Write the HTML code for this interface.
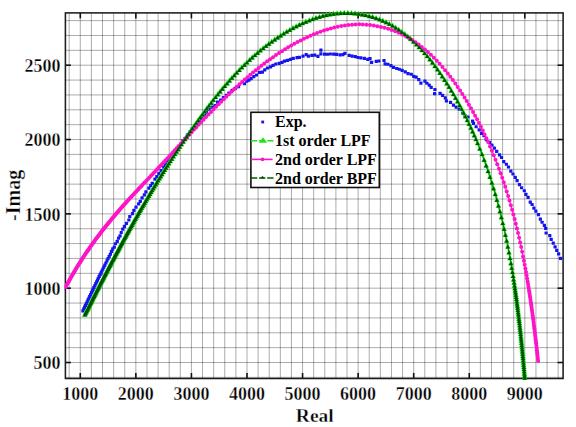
<!DOCTYPE html>
<html><head><meta charset="utf-8"><style>
html,body{margin:0;padding:0;background:#fff;width:576px;height:427px;overflow:hidden;font-family:"Liberation Serif",serif}
svg{display:block}
</style></head><body>
<svg width="576" height="427" viewBox="0 0 576 427">
<rect width="576" height="427" fill="#fff"/>
<g stroke="#000" stroke-opacity="0.33" stroke-width="1"><line x1="69.17" y1="12.9" x2="69.17" y2="378.5"/><line x1="80.29" y1="12.9" x2="80.29" y2="378.5"/><line x1="91.40" y1="12.9" x2="91.40" y2="378.5"/><line x1="102.51" y1="12.9" x2="102.51" y2="378.5"/><line x1="113.63" y1="12.9" x2="113.63" y2="378.5"/><line x1="124.74" y1="12.9" x2="124.74" y2="378.5"/><line x1="135.85" y1="12.9" x2="135.85" y2="378.5"/><line x1="146.97" y1="12.9" x2="146.97" y2="378.5"/><line x1="158.08" y1="12.9" x2="158.08" y2="378.5"/><line x1="169.19" y1="12.9" x2="169.19" y2="378.5"/><line x1="180.31" y1="12.9" x2="180.31" y2="378.5"/><line x1="191.42" y1="12.9" x2="191.42" y2="378.5"/><line x1="202.53" y1="12.9" x2="202.53" y2="378.5"/><line x1="213.65" y1="12.9" x2="213.65" y2="378.5"/><line x1="224.76" y1="12.9" x2="224.76" y2="378.5"/><line x1="235.87" y1="12.9" x2="235.87" y2="378.5"/><line x1="246.99" y1="12.9" x2="246.99" y2="378.5"/><line x1="258.10" y1="12.9" x2="258.10" y2="378.5"/><line x1="269.22" y1="12.9" x2="269.22" y2="378.5"/><line x1="280.33" y1="12.9" x2="280.33" y2="378.5"/><line x1="291.44" y1="12.9" x2="291.44" y2="378.5"/><line x1="302.56" y1="12.9" x2="302.56" y2="378.5"/><line x1="313.67" y1="12.9" x2="313.67" y2="378.5"/><line x1="324.78" y1="12.9" x2="324.78" y2="378.5"/><line x1="335.90" y1="12.9" x2="335.90" y2="378.5"/><line x1="347.01" y1="12.9" x2="347.01" y2="378.5"/><line x1="358.12" y1="12.9" x2="358.12" y2="378.5"/><line x1="369.24" y1="12.9" x2="369.24" y2="378.5"/><line x1="380.35" y1="12.9" x2="380.35" y2="378.5"/><line x1="391.46" y1="12.9" x2="391.46" y2="378.5"/><line x1="402.58" y1="12.9" x2="402.58" y2="378.5"/><line x1="413.69" y1="12.9" x2="413.69" y2="378.5"/><line x1="424.80" y1="12.9" x2="424.80" y2="378.5"/><line x1="435.92" y1="12.9" x2="435.92" y2="378.5"/><line x1="447.03" y1="12.9" x2="447.03" y2="378.5"/><line x1="458.14" y1="12.9" x2="458.14" y2="378.5"/><line x1="469.26" y1="12.9" x2="469.26" y2="378.5"/><line x1="480.37" y1="12.9" x2="480.37" y2="378.5"/><line x1="491.48" y1="12.9" x2="491.48" y2="378.5"/><line x1="502.60" y1="12.9" x2="502.60" y2="378.5"/><line x1="513.71" y1="12.9" x2="513.71" y2="378.5"/><line x1="524.82" y1="12.9" x2="524.82" y2="378.5"/><line x1="535.94" y1="12.9" x2="535.94" y2="378.5"/><line x1="547.05" y1="12.9" x2="547.05" y2="378.5"/><line x1="558.16" y1="12.9" x2="558.16" y2="378.5"/><line x1="65.4" y1="377.37" x2="563.1" y2="377.37"/><line x1="65.4" y1="362.51" x2="563.1" y2="362.51"/><line x1="65.4" y1="347.64" x2="563.1" y2="347.64"/><line x1="65.4" y1="332.78" x2="563.1" y2="332.78"/><line x1="65.4" y1="317.91" x2="563.1" y2="317.91"/><line x1="65.4" y1="303.05" x2="563.1" y2="303.05"/><line x1="65.4" y1="288.18" x2="563.1" y2="288.18"/><line x1="65.4" y1="273.32" x2="563.1" y2="273.32"/><line x1="65.4" y1="258.45" x2="563.1" y2="258.45"/><line x1="65.4" y1="243.59" x2="563.1" y2="243.59"/><line x1="65.4" y1="228.72" x2="563.1" y2="228.72"/><line x1="65.4" y1="213.86" x2="563.1" y2="213.86"/><line x1="65.4" y1="199.00" x2="563.1" y2="199.00"/><line x1="65.4" y1="184.13" x2="563.1" y2="184.13"/><line x1="65.4" y1="169.27" x2="563.1" y2="169.27"/><line x1="65.4" y1="154.40" x2="563.1" y2="154.40"/><line x1="65.4" y1="139.54" x2="563.1" y2="139.54"/><line x1="65.4" y1="124.67" x2="563.1" y2="124.67"/><line x1="65.4" y1="109.81" x2="563.1" y2="109.81"/><line x1="65.4" y1="94.94" x2="563.1" y2="94.94"/><line x1="65.4" y1="80.08" x2="563.1" y2="80.08"/><line x1="65.4" y1="65.21" x2="563.1" y2="65.21"/><line x1="65.4" y1="50.35" x2="563.1" y2="50.35"/><line x1="65.4" y1="35.48" x2="563.1" y2="35.48"/><line x1="65.4" y1="20.62" x2="563.1" y2="20.62"/></g>
<defs><clipPath id="c"><rect x="64.5" y="0.0" width="517.7" height="427.0"/></clipPath>
<path id="tri" d="M0,-3.2 L2.85,2.1 L-2.85,2.1 Z"/>
<path id="trs" d="M0,-2.3 L2.1,1.5 L-2.1,1.5 Z"/>
</defs>
<g stroke="#111" stroke-width="1.6"><line x1="80.29" y1="378.5" x2="80.29" y2="373.0"/><line x1="80.29" y1="12.9" x2="80.29" y2="18.4"/><line x1="135.85" y1="378.5" x2="135.85" y2="373.0"/><line x1="135.85" y1="12.9" x2="135.85" y2="18.4"/><line x1="191.42" y1="378.5" x2="191.42" y2="373.0"/><line x1="191.42" y1="12.9" x2="191.42" y2="18.4"/><line x1="246.99" y1="378.5" x2="246.99" y2="373.0"/><line x1="246.99" y1="12.9" x2="246.99" y2="18.4"/><line x1="302.56" y1="378.5" x2="302.56" y2="373.0"/><line x1="302.56" y1="12.9" x2="302.56" y2="18.4"/><line x1="358.12" y1="378.5" x2="358.12" y2="373.0"/><line x1="358.12" y1="12.9" x2="358.12" y2="18.4"/><line x1="413.69" y1="378.5" x2="413.69" y2="373.0"/><line x1="413.69" y1="12.9" x2="413.69" y2="18.4"/><line x1="469.26" y1="378.5" x2="469.26" y2="373.0"/><line x1="469.26" y1="12.9" x2="469.26" y2="18.4"/><line x1="524.82" y1="378.5" x2="524.82" y2="373.0"/><line x1="524.82" y1="12.9" x2="524.82" y2="18.4"/><line x1="65.4" y1="362.51" x2="70.9" y2="362.51"/><line x1="563.1" y1="362.51" x2="557.6" y2="362.51"/><line x1="65.4" y1="288.18" x2="70.9" y2="288.18"/><line x1="563.1" y1="288.18" x2="557.6" y2="288.18"/><line x1="65.4" y1="213.86" x2="70.9" y2="213.86"/><line x1="563.1" y1="213.86" x2="557.6" y2="213.86"/><line x1="65.4" y1="139.54" x2="70.9" y2="139.54"/><line x1="563.1" y1="139.54" x2="557.6" y2="139.54"/><line x1="65.4" y1="65.21" x2="70.9" y2="65.21"/><line x1="563.1" y1="65.21" x2="557.6" y2="65.21"/></g>
<rect x="65.4" y="12.9" width="497.7" height="365.6" fill="none" stroke="#1c1c1c" stroke-width="1.55"/>
<g clip-path="url(#c)">
<g fill="#1414ee"><rect x="81.31" y="309.18" width="3.2" height="3.2" rx="0.5"/><rect x="82.16" y="307.37" width="3.2" height="3.2" rx="0.5"/><rect x="83.02" y="305.56" width="3.2" height="3.2" rx="0.5"/><rect x="83.87" y="303.75" width="3.2" height="3.2" rx="0.5"/><rect x="84.72" y="301.94" width="3.2" height="3.2" rx="0.5"/><rect x="85.58" y="300.14" width="3.2" height="3.2" rx="0.5"/><rect x="86.43" y="298.33" width="3.2" height="3.2" rx="0.5"/><rect x="87.29" y="296.52" width="3.2" height="3.2" rx="0.5"/><rect x="88.14" y="294.71" width="3.2" height="3.2" rx="0.5"/><rect x="89.00" y="292.91" width="3.2" height="3.2" rx="0.5"/><rect x="89.86" y="291.10" width="3.2" height="3.2" rx="0.5"/><rect x="90.72" y="289.29" width="3.2" height="3.2" rx="0.5"/><rect x="91.58" y="287.49" width="3.2" height="3.2" rx="0.5"/><rect x="92.44" y="285.68" width="3.2" height="3.2" rx="0.5"/><rect x="93.31" y="283.88" width="3.2" height="3.2" rx="0.5"/><rect x="94.17" y="282.08" width="3.2" height="3.2" rx="0.5"/><rect x="95.04" y="280.27" width="3.2" height="3.2" rx="0.5"/><rect x="95.91" y="278.47" width="3.2" height="3.2" rx="0.5"/><rect x="96.78" y="276.67" width="3.2" height="3.2" rx="0.5"/><rect x="97.65" y="274.87" width="3.2" height="3.2" rx="0.5"/><rect x="98.53" y="273.07" width="3.2" height="3.2" rx="0.5"/><rect x="99.41" y="271.27" width="3.2" height="3.2" rx="0.5"/><rect x="100.32" y="269.41" width="3.2" height="3.2" rx="0.5"/><rect x="101.26" y="267.50" width="3.2" height="3.2" rx="0.5"/><rect x="102.23" y="265.53" width="3.2" height="3.2" rx="0.5"/><rect x="103.23" y="263.51" width="3.2" height="3.2" rx="0.5"/><rect x="104.27" y="261.42" width="3.2" height="3.2" rx="0.5"/><rect x="105.34" y="259.28" width="3.2" height="3.2" rx="0.5"/><rect x="106.45" y="257.07" width="3.2" height="3.2" rx="0.5"/><rect x="107.61" y="254.80" width="3.2" height="3.2" rx="0.5"/><rect x="108.80" y="252.56" width="3.2" height="3.2" rx="0.5"/><rect x="109.94" y="249.73" width="3.2" height="3.2" rx="0.5"/><rect x="111.15" y="247.22" width="3.2" height="3.2" rx="0.5"/><rect x="112.66" y="245.48" width="3.2" height="3.2" rx="0.5"/><rect x="113.85" y="242.17" width="3.2" height="3.2" rx="0.5"/><rect x="115.62" y="239.80" width="3.2" height="3.2" rx="0.5"/><rect x="116.97" y="236.56" width="3.2" height="3.2" rx="0.5"/><rect x="118.47" y="234.26" width="3.2" height="3.2" rx="0.5"/><rect x="119.62" y="230.91" width="3.2" height="3.2" rx="0.5"/><rect x="121.11" y="227.57" width="3.2" height="3.2" rx="0.5"/><rect x="122.88" y="224.81" width="3.2" height="3.2" rx="0.5"/><rect x="124.90" y="221.76" width="3.2" height="3.2" rx="0.5"/><rect x="127.24" y="218.39" width="3.2" height="3.2" rx="0.5"/><rect x="128.16" y="215.07" width="3.2" height="3.2" rx="0.5"/><rect x="130.91" y="212.11" width="3.2" height="3.2" rx="0.5"/><rect x="132.29" y="208.73" width="3.2" height="3.2" rx="0.5"/><rect x="134.41" y="205.46" width="3.2" height="3.2" rx="0.5"/><rect x="137.07" y="202.31" width="3.2" height="3.2" rx="0.5"/><rect x="138.66" y="199.77" width="3.2" height="3.2" rx="0.5"/><rect x="140.46" y="196.31" width="3.2" height="3.2" rx="0.5"/><rect x="142.72" y="193.26" width="3.2" height="3.2" rx="0.5"/><rect x="144.29" y="190.18" width="3.2" height="3.2" rx="0.5"/><rect x="147.25" y="186.54" width="3.2" height="3.2" rx="0.5"/><rect x="149.15" y="184.06" width="3.2" height="3.2" rx="0.5"/><rect x="150.71" y="181.66" width="3.2" height="3.2" rx="0.5"/><rect x="153.31" y="177.50" width="3.2" height="3.2" rx="0.5"/><rect x="155.20" y="175.09" width="3.2" height="3.2" rx="0.5"/><rect x="157.24" y="172.11" width="3.2" height="3.2" rx="0.5"/><rect x="159.43" y="169.09" width="3.2" height="3.2" rx="0.5"/><rect x="162.12" y="165.61" width="3.2" height="3.2" rx="0.5"/><rect x="163.85" y="162.69" width="3.2" height="3.2" rx="0.5"/><rect x="166.00" y="159.45" width="3.2" height="3.2" rx="0.5"/><rect x="167.94" y="156.81" width="3.2" height="3.2" rx="0.5"/><rect x="170.65" y="154.30" width="3.2" height="3.2" rx="0.5"/><rect x="172.07" y="150.64" width="3.2" height="3.2" rx="0.5"/><rect x="174.97" y="147.25" width="3.2" height="3.2" rx="0.5"/><rect x="176.79" y="144.95" width="3.2" height="3.2" rx="0.5"/><rect x="179.62" y="142.27" width="3.2" height="3.2" rx="0.5"/><rect x="181.32" y="138.96" width="3.2" height="3.2" rx="0.5"/><rect x="183.61" y="136.70" width="3.2" height="3.2" rx="0.5"/><rect x="185.83" y="133.15" width="3.2" height="3.2" rx="0.5"/><rect x="188.42" y="130.33" width="3.2" height="3.2" rx="0.5"/><rect x="190.57" y="127.12" width="3.2" height="3.2" rx="0.5"/><rect x="193.01" y="124.51" width="3.2" height="3.2" rx="0.5"/><rect x="195.83" y="122.09" width="3.2" height="3.2" rx="0.5"/><rect x="197.86" y="119.31" width="3.2" height="3.2" rx="0.5"/><rect x="200.23" y="116.70" width="3.2" height="3.2" rx="0.5"/><rect x="202.87" y="113.83" width="3.2" height="3.2" rx="0.5"/><rect x="204.98" y="111.09" width="3.2" height="3.2" rx="0.5"/><rect x="207.45" y="107.63" width="3.2" height="3.2" rx="0.5"/><rect x="210.60" y="105.45" width="3.2" height="3.2" rx="0.5"/><rect x="213.47" y="104.03" width="3.2" height="3.2" rx="0.5"/><rect x="215.87" y="100.56" width="3.2" height="3.2" rx="0.5"/><rect x="219.04" y="98.53" width="3.2" height="3.2" rx="0.5"/><rect x="221.75" y="95.92" width="3.2" height="3.2" rx="0.5"/><rect x="224.94" y="93.86" width="3.2" height="3.2" rx="0.5"/><rect x="227.26" y="91.39" width="3.2" height="3.2" rx="0.5"/><rect x="230.60" y="88.83" width="3.2" height="3.2" rx="0.5"/><rect x="233.67" y="86.73" width="3.2" height="3.2" rx="0.5"/><rect x="236.95" y="84.97" width="3.2" height="3.2" rx="0.5"/><rect x="242.86" y="82.13" width="3.2" height="3.2" rx="0.5"/><rect x="245.16" y="79.48" width="3.2" height="3.2" rx="0.5"/><rect x="247.32" y="78.60" width="3.2" height="3.2" rx="0.5"/><rect x="249.55" y="76.95" width="3.2" height="3.2" rx="0.5"/><rect x="252.17" y="75.11" width="3.2" height="3.2" rx="0.5"/><rect x="254.97" y="73.39" width="3.2" height="3.2" rx="0.5"/><rect x="257.83" y="70.70" width="3.2" height="3.2" rx="0.5"/><rect x="260.78" y="70.46" width="3.2" height="3.2" rx="0.5"/><rect x="263.16" y="68.18" width="3.2" height="3.2" rx="0.5"/><rect x="265.88" y="66.42" width="3.2" height="3.2" rx="0.5"/><rect x="268.98" y="65.25" width="3.2" height="3.2" rx="0.5"/><rect x="271.51" y="63.85" width="3.2" height="3.2" rx="0.5"/><rect x="274.21" y="62.41" width="3.2" height="3.2" rx="0.5"/><rect x="277.56" y="61.76" width="3.2" height="3.2" rx="0.5"/><rect x="280.40" y="60.76" width="3.2" height="3.2" rx="0.5"/><rect x="282.91" y="59.59" width="3.2" height="3.2" rx="0.5"/><rect x="285.90" y="58.80" width="3.2" height="3.2" rx="0.5"/><rect x="288.92" y="57.79" width="3.2" height="3.2" rx="0.5"/><rect x="291.66" y="56.75" width="3.2" height="3.2" rx="0.5"/><rect x="295.43" y="56.08" width="3.2" height="3.2" rx="0.5"/><rect x="297.78" y="55.86" width="3.2" height="3.2" rx="0.5"/><rect x="301.43" y="54.45" width="3.2" height="3.2" rx="0.5"/><rect x="304.60" y="53.10" width="3.2" height="3.2" rx="0.5"/><rect x="306.76" y="54.43" width="3.2" height="3.2" rx="0.5"/><rect x="310.27" y="53.72" width="3.2" height="3.2" rx="0.5"/><rect x="313.17" y="53.56" width="3.2" height="3.2" rx="0.5"/><rect x="316.30" y="54.80" width="3.2" height="3.2" rx="0.5"/><rect x="319.26" y="52.33" width="3.2" height="3.2" rx="0.5"/><rect x="322.97" y="52.50" width="3.2" height="3.2" rx="0.5"/><rect x="325.80" y="52.64" width="3.2" height="3.2" rx="0.5"/><rect x="328.72" y="52.41" width="3.2" height="3.2" rx="0.5"/><rect x="332.09" y="52.55" width="3.2" height="3.2" rx="0.5"/><rect x="334.99" y="52.80" width="3.2" height="3.2" rx="0.5"/><rect x="338.42" y="53.27" width="3.2" height="3.2" rx="0.5"/><rect x="341.31" y="52.94" width="3.2" height="3.2" rx="0.5"/><rect x="343.30" y="51.70" width="3.2" height="3.2" rx="0.5"/><rect x="347.62" y="53.77" width="3.2" height="3.2" rx="0.5"/><rect x="350.59" y="54.59" width="3.2" height="3.2" rx="0.5"/><rect x="353.73" y="55.11" width="3.2" height="3.2" rx="0.5"/><rect x="356.46" y="55.90" width="3.2" height="3.2" rx="0.5"/><rect x="359.31" y="56.18" width="3.2" height="3.2" rx="0.5"/><rect x="362.78" y="56.81" width="3.2" height="3.2" rx="0.5"/><rect x="366.15" y="57.77" width="3.2" height="3.2" rx="0.5"/><rect x="368.41" y="57.08" width="3.2" height="3.2" rx="0.5"/><rect x="370.00" y="60.70" width="3.2" height="3.2" rx="0.5"/><rect x="374.67" y="59.84" width="3.2" height="3.2" rx="0.5"/><rect x="377.24" y="59.40" width="3.2" height="3.2" rx="0.5"/><rect x="382.40" y="58.90" width="3.2" height="3.2" rx="0.5"/><rect x="383.48" y="62.30" width="3.2" height="3.2" rx="0.5"/><rect x="386.25" y="62.63" width="3.2" height="3.2" rx="0.5"/><rect x="389.32" y="63.96" width="3.2" height="3.2" rx="0.5"/><rect x="391.84" y="65.76" width="3.2" height="3.2" rx="0.5"/><rect x="395.10" y="66.90" width="3.2" height="3.2" rx="0.5"/><rect x="397.72" y="67.64" width="3.2" height="3.2" rx="0.5"/><rect x="400.54" y="68.81" width="3.2" height="3.2" rx="0.5"/><rect x="403.65" y="70.18" width="3.2" height="3.2" rx="0.5"/><rect x="406.47" y="72.04" width="3.2" height="3.2" rx="0.5"/><rect x="409.65" y="72.67" width="3.2" height="3.2" rx="0.5"/><rect x="412.11" y="74.71" width="3.2" height="3.2" rx="0.5"/><rect x="414.60" y="75.59" width="3.2" height="3.2" rx="0.5"/><rect x="417.18" y="78.11" width="3.2" height="3.2" rx="0.5"/><rect x="419.30" y="81.50" width="3.2" height="3.2" rx="0.5"/><rect x="423.30" y="79.50" width="3.2" height="3.2" rx="0.5"/><rect x="425.22" y="81.65" width="3.2" height="3.2" rx="0.5"/><rect x="427.64" y="83.45" width="3.2" height="3.2" rx="0.5"/><rect x="429.56" y="85.84" width="3.2" height="3.2" rx="0.5"/><rect x="433.30" y="87.91" width="3.2" height="3.2" rx="0.5"/><rect x="433.00" y="92.00" width="3.2" height="3.2" rx="0.5"/><rect x="438.53" y="91.84" width="3.2" height="3.2" rx="0.5"/><rect x="440.95" y="93.82" width="3.2" height="3.2" rx="0.5"/><rect x="443.67" y="96.36" width="3.2" height="3.2" rx="0.5"/><rect x="444.80" y="99.20" width="3.2" height="3.2" rx="0.5"/><rect x="448.94" y="100.83" width="3.2" height="3.2" rx="0.5"/><rect x="451.84" y="103.53" width="3.2" height="3.2" rx="0.5"/><rect x="454.53" y="105.52" width="3.2" height="3.2" rx="0.5"/><rect x="457.71" y="107.62" width="3.2" height="3.2" rx="0.5"/><rect x="461.04" y="111.60" width="3.2" height="3.2" rx="0.5"/><rect x="463.36" y="114.08" width="3.2" height="3.2" rx="0.5"/><rect x="466.40" y="115.38" width="3.2" height="3.2" rx="0.5"/><rect x="471.00" y="119.50" width="3.2" height="3.2" rx="0.5"/><rect x="471.88" y="121.83" width="3.2" height="3.2" rx="0.5"/><rect x="474.52" y="125.17" width="3.2" height="3.2" rx="0.5"/><rect x="477.57" y="128.36" width="3.2" height="3.2" rx="0.5"/><rect x="479.92" y="131.89" width="3.2" height="3.2" rx="0.5"/><rect x="482.40" y="134.05" width="3.2" height="3.2" rx="0.5"/><rect x="484.67" y="137.99" width="3.2" height="3.2" rx="0.5"/><rect x="487.92" y="140.78" width="3.2" height="3.2" rx="0.5"/><rect x="490.37" y="143.52" width="3.2" height="3.2" rx="0.5"/><rect x="492.74" y="146.49" width="3.2" height="3.2" rx="0.5"/><rect x="495.09" y="149.79" width="3.2" height="3.2" rx="0.5"/><rect x="497.94" y="153.19" width="3.2" height="3.2" rx="0.5"/><rect x="499.94" y="155.89" width="3.2" height="3.2" rx="0.5"/><rect x="502.16" y="160.10" width="3.2" height="3.2" rx="0.5"/><rect x="504.78" y="162.66" width="3.2" height="3.2" rx="0.5"/><rect x="506.87" y="165.40" width="3.2" height="3.2" rx="0.5"/><rect x="509.21" y="169.58" width="3.2" height="3.2" rx="0.5"/><rect x="511.38" y="172.39" width="3.2" height="3.2" rx="0.5"/><rect x="513.64" y="175.87" width="3.2" height="3.2" rx="0.5"/><rect x="515.49" y="179.06" width="3.2" height="3.2" rx="0.5"/><rect x="517.84" y="182.93" width="3.2" height="3.2" rx="0.5"/><rect x="520.01" y="186.17" width="3.2" height="3.2" rx="0.5"/><rect x="522.70" y="189.16" width="3.2" height="3.2" rx="0.5"/><rect x="524.27" y="192.79" width="3.2" height="3.2" rx="0.5"/><rect x="526.49" y="195.68" width="3.2" height="3.2" rx="0.5"/><rect x="528.65" y="200.47" width="3.2" height="3.2" rx="0.5"/><rect x="530.50" y="202.92" width="3.2" height="3.2" rx="0.5"/><rect x="532.31" y="206.61" width="3.2" height="3.2" rx="0.5"/><rect x="534.25" y="209.44" width="3.2" height="3.2" rx="0.5"/><rect x="536.85" y="213.02" width="3.2" height="3.2" rx="0.5"/><rect x="538.75" y="217.60" width="3.2" height="3.2" rx="0.5"/><rect x="540.47" y="220.67" width="3.2" height="3.2" rx="0.5"/><rect x="542.80" y="223.85" width="3.2" height="3.2" rx="0.5"/><rect x="544.06" y="226.85" width="3.2" height="3.2" rx="0.5"/><rect x="544.50" y="231.40" width="3.2" height="3.2" rx="0.5"/><rect x="548.18" y="234.11" width="3.2" height="3.2" rx="0.5"/><rect x="549.57" y="237.86" width="3.2" height="3.2" rx="0.5"/><rect x="551.68" y="241.55" width="3.2" height="3.2" rx="0.5"/><rect x="553.47" y="245.35" width="3.2" height="3.2" rx="0.5"/><rect x="555.14" y="248.77" width="3.2" height="3.2" rx="0.5"/><rect x="557.05" y="252.33" width="3.2" height="3.2" rx="0.5"/><rect x="558.90" y="256.79" width="3.2" height="3.2" rx="0.5"/><rect x="319.30" y="48.60" width="3.2" height="3.2" rx="0.5"/></g>
<path d="M84.89,314.62 L85.15,314.10 L85.41,313.58 L85.66,313.06 L85.92,312.54 L86.18,312.02 L86.44,311.50 L86.69,310.99 L86.95,310.47 L87.21,309.95 L87.47,309.43 L87.72,308.91 L87.98,308.39 L88.24,307.87 L88.50,307.35 L88.76,306.84 L89.02,306.32 L89.27,305.80 L89.53,305.28 L89.79,304.76 L90.05,304.25 L90.31,303.73 L90.57,303.21 L90.83,302.69 L91.08,302.18 L91.34,301.66 L91.60,301.14 L91.86,300.63 L92.12,300.11 L92.38,299.60 L92.64,299.08 L92.90,298.56 L93.16,298.05 L93.42,297.53 L93.68,297.02 L93.94,296.50 L94.20,295.99 L94.46,295.47 L94.72,294.96 L94.98,294.44 L95.24,293.93 L95.50,293.41 L95.76,292.90 L96.02,292.38 L96.28,291.87 L96.54,291.36 L96.80,290.84 L97.06,290.33 L97.32,289.82 L97.58,289.30 L97.85,288.79 L98.11,288.28 L98.37,287.76 L98.63,287.25 L98.89,286.74 L99.15,286.23 L99.41,285.71 L99.68,285.20 L99.94,284.69 L100.20,284.18 L100.46,283.67 L100.73,283.15 L100.99,282.64 L101.25,282.13 L101.51,281.62 L101.78,281.11 L102.04,280.60 L102.30,280.09 L102.56,279.58 L102.83,279.07 L103.09,278.56 L103.35,278.05 L103.62,277.54 L103.88,277.03 L104.14,276.52 L104.41,276.01 L104.67,275.50 L104.94,274.99 L105.20,274.48 L105.46,273.97 L105.73,273.46 L105.99,272.96 L106.26,272.45 L106.52,271.94 L106.79,271.43 L107.05,270.92 L107.32,270.41 L107.58,269.91 L107.85,269.40 L108.11,268.89 L108.38,268.38 L108.64,267.88 L108.91,267.37 L109.18,266.86 L109.44,266.36 L109.71,265.85 L109.97,265.34 L110.24,264.84 L110.51,264.33 L110.77,263.83 L111.04,263.32 L111.31,262.82 L111.57,262.31 L111.84,261.80 L112.11,261.30 L112.37,260.79 L112.64,260.29 L112.91,259.79 L113.18,259.28 L113.44,258.78 L113.71,258.27 L113.98,257.77 L114.25,257.26 L114.52,256.76 L114.79,256.26 L115.05,255.75 L115.32,255.25 L115.59,254.75 L115.86,254.24 L116.13,253.74 L116.40,253.24 L116.67,252.74 L116.94,252.23 L117.21,251.73 L117.48,251.23 L117.75,250.73 L118.02,250.23 L118.29,249.72 L118.56,249.22 L118.83,248.72 L119.10,248.22 L119.37,247.72 L119.64,247.22 L119.91,246.72 L120.18,246.22 L120.46,245.72 L120.73,245.22 L121.00,244.72 L121.27,244.22 L121.54,243.72 L121.81,243.22 L122.09,242.72 L122.36,242.22 L122.63,241.72 L122.90,241.22 L123.18,240.72 L123.45,240.22 L123.72,239.72 L124.00,239.23 L124.27,238.73 L124.54,238.23 L124.82,237.73 L125.09,237.23 L125.37,236.74 L125.64,236.24 L125.91,235.74 L126.19,235.24 L126.46,234.75 L126.74,234.25 L127.01,233.75 L127.29,233.26 L127.56,232.76 L127.84,232.26 L128.11,231.77 L128.39,231.27 L128.67,230.78 L128.94,230.28 L129.22,229.79 L129.49,229.29 L129.77,228.79 L130.05,228.30 L130.32,227.80 L130.60,227.31 L130.88,226.82 L131.16,226.32 L131.43,225.83 L131.71,225.33 L131.99,224.84 L132.27,224.35 L132.55,223.85 L132.82,223.36 L133.10,222.87 L133.38,222.37 L133.66,221.88 L133.94,221.39 L134.22,220.89 L134.50,220.40 L134.78,219.91 L135.06,219.42 L135.34,218.92 L135.62,218.43 L135.90,217.94 L136.18,217.45 L136.46,216.96 L136.74,216.47 L137.02,215.98 L137.30,215.48 L137.58,214.99 L137.87,214.50 L138.15,214.01 L138.43,213.52 L138.71,213.03 L138.99,212.54 L139.28,212.05 L139.56,211.56 L139.84,211.07 L140.12,210.58 L140.41,210.09 L140.69,209.61 L140.97,209.12 L141.26,208.63 L141.54,208.14 L141.83,207.65 L142.11,207.16 L142.40,206.68 L142.68,206.19 L142.97,205.70 L143.25,205.21 L143.54,204.72 L143.82,204.24 L144.11,203.75 L144.39,203.26 L144.68,202.78 L144.96,202.29 L145.25,201.80 L145.54,201.32 L145.82,200.83 L146.11,200.34 L146.40,199.86 L146.69,199.37 L146.97,198.89 L147.26,198.40 L147.55,197.92 L147.84,197.43 L148.13,196.95 L148.41,196.46 L148.70,195.98 L148.99,195.49 L149.28,195.01 L149.57,194.52 L149.86,194.04 L150.15,193.56 L150.44,193.07 L150.73,192.59 L151.02,192.11 L151.31,191.62 L151.60,191.14 L151.89,190.66 L152.19,190.18 L152.48,189.69 L152.77,189.21 L153.06,188.73 L153.35,188.25 L153.64,187.76 L153.94,187.28 L154.23,186.80 L154.52,186.32 L154.82,185.84 L155.11,185.36 L155.40,184.88 L155.70,184.40 L155.99,183.92 L156.28,183.44 L156.58,182.96 L156.87,182.48 L157.17,182.00 L157.46,181.52 L157.76,181.04 L158.05,180.56 L158.35,180.08 L158.65,179.60 L158.94,179.12 L159.24,178.64 L159.54,178.16 L159.83,177.68 L160.13,177.21 L160.43,176.73 L160.72,176.25 L161.02,175.77 L161.32,175.29 L161.62,174.82 L161.92,174.34 L162.22,173.86 L162.51,173.39 L162.81,172.91 L163.11,172.43 L163.41,171.96 L163.71,171.48 L164.01,171.00 L164.31,170.53 L164.61,170.05 L164.91,169.58 L165.22,169.10 L165.52,168.62 L165.82,168.15 L166.12,167.67 L166.42,167.20 L166.72,166.73 L167.03,166.25 L167.33,165.78 L167.63,165.30 L167.93,164.83 L168.24,164.35 L168.54,163.88 L168.85,163.41 L169.15,162.93 L169.45,162.46 L169.76,161.99 L170.06,161.52 L170.37,161.04 L170.67,160.57 L170.98,160.10 L171.28,159.63 L171.59,159.15 L171.90,158.68 L172.20,158.21 L172.51,157.74 L172.82,157.27 L173.12,156.80 L173.43,156.33 L173.74,155.85 L174.05,155.38 L174.36,154.91 L174.66,154.44 L174.97,153.97 L175.28,153.50 L175.59,153.03 L175.90,152.56 L176.21,152.09 L176.52,151.62 L176.83,151.16 L177.14,150.69 L177.45,150.22 L177.76,149.75 L178.07,149.28 L178.39,148.81 L178.70,148.34 L179.01,147.88 L179.32,147.41 L179.63,146.94 L179.95,146.47 L180.26,146.01 L180.57,145.54 L180.89,145.07 L181.20,144.60 L181.51,144.14 L181.83,143.67 L182.14,143.21 L182.46,142.74 L182.77,142.27 L183.09,141.81 L183.41,141.34 L183.72,140.88 L184.04,140.41 L184.35,139.95 L184.67,139.48 L184.99,139.02 L185.31,138.55 L185.62,138.09 L185.94,137.62 L186.26,137.16 L186.58,136.70 L186.90,136.23 L187.21,135.77 L187.53,135.30 L187.85,134.84 L188.17,134.38 L188.49,133.92 L188.81,133.45 L189.13,132.99 L189.46,132.53 L189.78,132.07 L190.10,131.60 L190.42,131.14 L190.74,130.68 L191.06,130.22 L191.39,129.76 L191.71,129.30 L192.03,128.83 L192.36,128.37 L192.68,127.91 L193.00,127.45 L193.33,126.99 L193.65,126.53 L193.98,126.07 L194.30,125.61 L194.63,125.15 L194.95,124.69 L195.28,124.23 L195.61,123.77 L195.93,123.32 L196.26,122.86 L196.59,122.40 L196.91,121.94 L197.24,121.48 L197.57,121.02 L197.90,120.57 L198.23,120.11 L198.56,119.65 L198.89,119.20 L199.22,118.74 L199.55,118.28 L199.88,117.83 L200.21,117.37 L200.54,116.91 L200.87,116.46 L201.20,116.00 L201.53,115.55 L201.87,115.09 L202.20,114.64 L202.53,114.18 L202.87,113.73 L203.20,113.28 L203.54,112.82 L203.87,112.37 L204.21,111.92 L204.54,111.47 L204.88,111.01 L205.21,110.56 L205.55,110.11 L205.89,109.66 L206.23,109.21 L206.57,108.76 L206.90,108.31 L207.24,107.86 L207.58,107.41 L207.92,106.96 L208.26,106.51 L208.60,106.06 L208.94,105.62 L209.29,105.17 L209.63,104.72 L209.97,104.27 L210.31,103.83 L210.66,103.38 L211.00,102.93 L211.35,102.49 L211.69,102.04 L212.04,101.60 L212.38,101.16 L212.73,100.71 L213.07,100.27 L213.42,99.83 L213.77,99.38 L214.12,98.94 L214.47,98.50 L214.82,98.06 L215.17,97.62 L215.52,97.18 L215.87,96.74 L216.22,96.30 L216.57,95.86 L216.92,95.42 L217.28,94.98 L217.63,94.55 L217.98,94.11 L218.34,93.67 L218.69,93.24 L219.05,92.80 L219.40,92.37 L219.76,91.93 L220.12,91.50 L220.48,91.06 L220.84,90.63 L221.19,90.20 L221.55,89.77 L221.91,89.33 L222.27,88.90 L222.64,88.47 L223.00,88.04 L223.36,87.61 L223.72,87.18 L224.09,86.76 L224.45,86.33 L224.82,85.90 L225.18,85.47 L225.55,85.05 L225.91,84.62 L226.28,84.20 L226.65,83.77 L227.02,83.35 L227.39,82.93 L227.76,82.50 L228.13,82.08 L228.50,81.66 L228.87,81.24 L229.24,80.82 L229.62,80.40 L229.99,79.98 L230.36,79.56 L230.74,79.15 L231.11,78.73 L231.49,78.31 L231.87,77.90 L232.25,77.48 L232.62,77.07 L233.00,76.65 L233.38,76.24 L233.76,75.83 L234.14,75.42 L234.53,75.00 L234.91,74.59 L235.29,74.18 L235.68,73.77 L236.06,73.37 L236.45,72.96 L236.83,72.55 L237.22,72.15 L237.61,71.74 L237.99,71.33 L238.38,70.93 L238.77,70.53 L239.16,70.12 L239.55,69.72 L239.95,69.32 L240.34,68.92 L240.73,68.52 L241.13,68.12 L241.52,67.72 L241.92,67.33 L242.31,66.93 L242.71,66.53 L243.11,66.14 L243.51,65.74 L243.91,65.35 L244.31,64.96 L244.71,64.56 L245.11,64.17 L245.51,63.78 L245.92,63.39 L246.32,63.00 L246.73,62.62 L247.13,62.23 L247.54,61.84 L247.95,61.46 L248.36,61.07 L248.77,60.69 L249.18,60.30 L249.59,59.92 L250.00,59.54 L250.41,59.16 L250.82,58.78 L251.24,58.40 L251.65,58.02 L252.07,57.64 L252.49,57.27 L252.90,56.89 L253.32,56.52 L253.74,56.14 L254.16,55.77 L254.58,55.40 L255.01,55.03 L255.43,54.66 L255.85,54.29 L256.28,53.92 L256.70,53.55 L257.13,53.19 L257.56,52.82 L257.99,52.46 L258.41,52.09 L258.85,51.73 L259.28,51.37 L259.71,51.01 L260.14,50.65 L260.57,50.29 L261.01,49.93 L261.45,49.57 L261.88,49.21 L262.32,48.86 L262.76,48.50 L263.20,48.15 L263.64,47.80 L264.08,47.45 L264.52,47.10 L264.97,46.75 L265.41,46.40 L265.85,46.05 L266.30,45.71 L266.75,45.36 L267.20,45.02 L267.65,44.67 L268.10,44.33 L268.55,43.99 L269.00,43.65 L269.45,43.31 L269.91,42.97 L270.36,42.63 L270.82,42.30 L271.27,41.96 L271.73,41.63 L272.19,41.30 L272.65,40.96 L273.11,40.63 L273.58,40.30 L274.04,39.98 L274.50,39.65 L274.97,39.32 L275.44,39.00 L275.90,38.67 L276.37,38.35 L276.84,38.03 L277.31,37.71 L277.78,37.39 L278.26,37.07 L278.73,36.75 L279.20,36.43 L279.68,36.12 L280.16,35.80 L280.64,35.49 L281.12,35.18 L281.60,34.87 L282.08,34.56 L282.56,34.25 L283.04,33.94 L283.53,33.64 L284.01,33.33 L284.50,33.03 L284.99,32.73 L285.48,32.43 L285.97,32.13 L286.46,31.83 L286.95,31.53 L287.44,31.24 L287.94,30.95 L288.43,30.65 L288.93,30.36 L289.42,30.08 L289.92,29.79 L290.42,29.50 L290.92,29.22 L291.42,28.94 L291.92,28.65 L292.42,28.38 L292.93,28.10 L293.43,27.82 L293.94,27.55 L294.44,27.28 L294.95,27.01 L295.46,26.74 L295.97,26.47 L296.48,26.21 L296.99,25.94 L297.50,25.68 L298.01,25.42 L298.53,25.17 L299.04,24.91 L299.56,24.66 L300.07,24.41 L300.59,24.16 L301.11,23.91 L301.63,23.67 L302.15,23.42 L302.67,23.18 L303.19,22.94 L303.71,22.71 L304.23,22.47 L304.76,22.24 L305.28,22.01 L305.81,21.79 L306.33,21.56 L306.86,21.34 L307.39,21.12 L307.92,20.90 L308.44,20.69 L308.97,20.47 L309.51,20.26 L310.04,20.05 L310.57,19.85 L311.10,19.65 L311.64,19.45 L312.17,19.25 L312.70,19.05 L313.24,18.86 L313.78,18.67 L314.31,18.48 L314.85,18.30 L315.39,18.12 L315.93,17.94 L316.47,17.76 L317.01,17.59 L317.55,17.42 L318.09,17.25 L318.63,17.09 L319.18,16.92 L319.72,16.76 L320.27,16.61 L320.81,16.46 L321.36,16.31 L321.90,16.16 L322.45,16.01 L323.00,15.87 L323.54,15.73 L324.09,15.60 L324.64,15.47 L325.19,15.34 L325.74,15.21 L326.29,15.09 L326.84,14.97 L327.40,14.86 L327.95,14.74 L328.50,14.63 L329.06,14.53 L329.61,14.43 L330.16,14.33 L330.72,14.23 L331.28,14.14 L331.83,14.05 L332.39,13.96 L332.95,13.88 L333.50,13.80 L334.06,13.73 L334.62,13.66 L335.18,13.59 L335.74,13.52 L336.30,13.46 L336.86,13.41 L337.42,13.35 L337.98,13.30 L338.54,13.26 L339.10,13.21 L339.67,13.18 L340.23,13.14 L340.79,13.11 L341.35,13.08 L341.92,13.06 L342.48,13.03 L343.04,13.02 L343.61,13.00 L344.17,12.99 L344.74,12.98 L345.30,12.98 L345.86,12.98 L346.43,12.99 L346.99,12.99 L347.56,13.00 L348.12,13.02 L348.68,13.03 L349.25,13.06 L349.81,13.08 L350.37,13.11 L350.94,13.14 L351.50,13.17 L352.06,13.21 L352.62,13.25 L353.19,13.30 L353.75,13.35 L354.31,13.40 L354.87,13.45 L355.43,13.51 L355.99,13.57 L356.55,13.64 L357.11,13.71 L357.67,13.78 L358.23,13.86 L358.78,13.93 L359.34,14.02 L359.90,14.10 L360.45,14.19 L361.01,14.28 L361.56,14.38 L362.12,14.47 L362.67,14.58 L363.22,14.68 L363.77,14.79 L364.32,14.90 L364.87,15.02 L365.42,15.13 L365.97,15.25 L366.51,15.38 L367.06,15.51 L367.60,15.64 L368.15,15.77 L368.69,15.91 L369.23,16.05 L369.77,16.19 L370.31,16.34 L370.85,16.49 L371.39,16.64 L371.92,16.79 L372.46,16.95 L372.99,17.12 L373.52,17.28 L374.06,17.45 L374.59,17.62 L375.11,17.79 L375.64,17.97 L376.17,18.15 L376.69,18.34 L377.21,18.52 L377.73,18.71 L378.25,18.90 L378.77,19.10 L379.29,19.30 L379.80,19.50 L380.32,19.70 L380.83,19.91 L381.34,20.12 L381.85,20.34 L382.35,20.55 L382.86,20.77 L383.36,20.99 L383.86,21.22 L384.36,21.45 L384.86,21.68 L385.36,21.91 L385.85,22.15 L386.35,22.39 L386.84,22.63 L387.33,22.87 L387.82,23.12 L388.31,23.37 L388.79,23.63 L389.28,23.88 L389.76,24.14 L390.24,24.40 L390.72,24.66 L391.20,24.93 L391.68,25.20 L392.15,25.47 L392.63,25.75 L393.10,26.02 L393.57,26.30 L394.04,26.58 L394.51,26.87 L394.97,27.16 L395.44,27.45 L395.90,27.74 L396.36,28.03 L396.82,28.33 L397.28,28.63 L397.74,28.93 L398.19,29.23 L398.65,29.54 L399.10,29.85 L399.55,30.16 L400.00,30.48 L400.45,30.79 L400.90,31.11 L401.34,31.43 L401.79,31.75 L402.23,32.08 L402.67,32.41 L403.11,32.74 L403.55,33.07 L403.99,33.40 L404.42,33.74 L404.86,34.08 L405.29,34.42 L405.72,34.76 L406.15,35.10 L406.58,35.45 L407.01,35.80 L407.43,36.15 L407.86,36.51 L408.28,36.86 L408.70,37.22 L409.12,37.58 L409.54,37.94 L409.96,38.30 L410.38,38.67 L410.79,39.03 L411.21,39.40 L411.62,39.77 L412.03,40.15 L412.44,40.52 L412.85,40.90 L413.26,41.28 L413.67,41.66 L414.07,42.04 L414.47,42.42 L414.88,42.81 L415.28,43.20 L415.68,43.59 L416.08,43.98 L416.47,44.37 L416.87,44.76 L417.26,45.16 L417.66,45.56 L418.05,45.96 L418.44,46.36 L418.83,46.76 L419.22,47.17 L419.61,47.57 L419.99,47.98 L420.38,48.39 L420.76,48.80 L421.15,49.21 L421.53,49.62 L421.91,50.04 L422.29,50.46 L422.67,50.87 L423.04,51.29 L423.42,51.72 L423.79,52.14 L424.17,52.56 L424.54,52.99 L424.91,53.41 L425.28,53.84 L425.65,54.27 L426.02,54.70 L426.38,55.13 L426.75,55.57 L427.11,56.00 L427.48,56.44 L427.84,56.87 L428.20,57.31 L428.56,57.75 L428.92,58.19 L429.28,58.64 L429.63,59.08 L429.99,59.52 L430.34,59.97 L430.70,60.41 L431.05,60.86 L431.40,61.31 L431.75,61.76 L432.10,62.21 L432.45,62.66 L432.79,63.12 L433.14,63.57 L433.49,64.02 L433.83,64.48 L434.17,64.94 L434.52,65.39 L434.86,65.85 L435.20,66.31 L435.54,66.77 L435.87,67.24 L436.21,67.70 L436.55,68.16 L436.88,68.62 L437.22,69.09 L437.55,69.55 L437.88,70.02 L438.21,70.49 L438.54,70.96 L438.87,71.42 L439.20,71.89 L439.53,72.36 L439.86,72.83 L440.18,73.31 L440.51,73.78 L440.83,74.25 L441.15,74.72 L441.47,75.20 L441.80,75.67 L442.12,76.15 L442.44,76.62 L442.75,77.10 L443.07,77.58 L443.39,78.05 L443.70,78.53 L444.02,79.01 L444.33,79.49 L444.65,79.97 L444.96,80.45 L445.27,80.93 L445.58,81.41 L445.89,81.89 L446.20,82.37 L446.51,82.85 L446.82,83.33 L447.12,83.82 L447.43,84.30 L447.73,84.78 L448.04,85.27 L448.34,85.75 L448.64,86.24 L448.94,86.72 L449.24,87.21 L449.54,87.69 L449.84,88.18 L450.14,88.67 L450.44,89.15 L450.73,89.64 L451.03,90.13 L451.33,90.62 L451.62,91.11 L451.91,91.59 L452.20,92.08 L452.50,92.57 L452.79,93.07 L453.08,93.56 L453.37,94.05 L453.65,94.54 L453.94,95.03 L454.23,95.52 L454.51,96.02 L454.80,96.51 L455.08,97.00 L455.37,97.50 L455.65,97.99 L455.93,98.49 L456.21,98.98 L456.49,99.48 L456.77,99.97 L457.05,100.47 L457.33,100.97 L457.61,101.46 L457.88,101.96 L458.16,102.46 L458.43,102.96 L458.71,103.46 L458.98,103.96 L459.25,104.46 L459.52,104.96 L459.80,105.46 L460.07,105.96 L460.33,106.46 L460.60,106.96 L460.87,107.46 L461.14,107.96 L461.40,108.46 L461.67,108.97 L461.93,109.47 L462.20,109.97 L462.46,110.48 L462.72,110.98 L462.99,111.49 L463.25,111.99 L463.51,112.50 L463.77,113.00 L464.02,113.51 L464.28,114.02 L464.54,114.52 L464.79,115.03 L465.05,115.54 L465.30,116.05 L465.56,116.56 L465.81,117.06 L466.06,117.57 L466.32,118.08 L466.57,118.59 L466.82,119.10 L467.07,119.61 L467.32,120.12 L467.56,120.63 L467.81,121.15 L468.06,121.66 L468.30,122.17 L468.55,122.68 L468.79,123.20 L469.04,123.71 L469.28,124.22 L469.52,124.74 L469.76,125.25 L470.00,125.77 L470.24,126.28 L470.48,126.80 L470.72,127.31 L470.96,127.83 L471.20,128.34 L471.43,128.86 L471.67,129.38 L471.90,129.90 L472.14,130.41 L472.37,130.93 L472.60,131.45 L472.83,131.97 L473.07,132.49 L473.30,133.01 L473.53,133.53 L473.76,134.05 L473.98,134.57 L474.21,135.09 L474.44,135.61 L474.66,136.13 L474.89,136.65 L475.12,137.17 L475.34,137.69 L475.56,138.22 L475.79,138.74 L476.01,139.26 L476.23,139.79 L476.45,140.31 L476.67,140.83 L476.89,141.36 L477.11,141.88 L477.33,142.41 L477.54,142.93 L477.76,143.46 L477.98,143.98 L478.19,144.51 L478.41,145.04 L478.62,145.56 L478.83,146.09 L479.05,146.62 L479.26,147.15 L479.47,147.67 L479.68,148.20 L479.89,148.73 L480.10,149.26 L480.31,149.79 L480.52,150.32 L480.72,150.85 L480.93,151.38 L481.14,151.91 L481.34,152.44 L481.54,152.97 L481.75,153.50 L481.95,154.03 L482.15,154.57 L482.36,155.10 L482.56,155.63 L482.76,156.16 L482.96,156.70 L483.16,157.23 L483.36,157.76 L483.55,158.30 L483.75,158.83 L483.95,159.36 L484.14,159.90 L484.34,160.43 L484.54,160.97 L484.73,161.50 L484.92,162.04 L485.12,162.58 L485.31,163.11 L485.50,163.65 L485.69,164.19 L485.88,164.72 L486.07,165.26 L486.26,165.80 L486.45,166.34 L486.64,166.87 L486.82,167.41 L487.01,167.95 L487.20,168.49 L487.38,169.03 L487.57,169.57 L487.75,170.11 L487.93,170.65 L488.12,171.19 L488.30,171.73 L488.48,172.27 L488.66,172.81 L488.84,173.35 L489.02,173.89 L489.20,174.43 L489.38,174.98 L489.56,175.52 L489.74,176.06 L489.91,176.60 L490.09,177.15 L490.27,177.69 L490.44,178.23 L490.61,178.78 L490.79,179.32 L490.96,179.86 L491.13,180.41 L491.31,180.95 L491.48,181.50 L491.65,182.04 L491.82,182.59 L491.99,183.13 L492.16,183.68 L492.33,184.22 L492.50,184.77 L492.66,185.32 L492.83,185.86 L493.00,186.41 L493.16,186.96 L493.33,187.50 L493.49,188.05 L493.65,188.60 L493.82,189.15 L493.98,189.70 L494.14,190.24 L494.31,190.79 L494.47,191.34 L494.63,191.89 L494.79,192.44 L494.95,192.99 L495.11,193.54 L495.26,194.09 L495.42,194.64 L495.58,195.19 L495.74,195.74 L495.89,196.29 L496.05,196.84 L496.20,197.39 L496.36,197.94 L496.51,198.50 L496.66,199.05 L496.82,199.60 L496.97,200.15 L497.12,200.70 L497.27,201.26 L497.42,201.81 L497.57,202.36 L497.72,202.92 L497.87,203.47 L498.02,204.02 L498.17,204.58 L498.31,205.13 L498.46,205.69 L498.61,206.24 L498.75,206.79 L498.90,207.35 L499.04,207.90 L499.19,208.46 L499.33,209.01 L499.48,209.57 L499.62,210.13 L499.76,210.68 L499.90,211.24 L500.04,211.79 L500.18,212.35 L500.32,212.91 L500.46,213.46 L500.60,214.02 L500.74,214.58 L500.88,215.13 L501.02,215.69 L501.15,216.25 L501.29,216.81 L501.43,217.36 L501.56,217.92 L501.70,218.48 L501.83,219.04 L501.97,219.60 L502.10,220.16 L502.23,220.72 L502.36,221.28 L502.50,221.83 L502.63,222.39 L502.76,222.95 L502.89,223.51 L503.02,224.07 L503.15,224.63 L503.28,225.19 L503.41,225.75 L503.54,226.31 L503.66,226.87 L503.79,227.44 L503.92,228.00 L504.04,228.56 L504.17,229.12 L504.29,229.68 L504.42,230.24 L504.54,230.80 L504.67,231.37 L504.79,231.93 L504.91,232.49 L505.04,233.05 L505.16,233.61 L505.28,234.18 L505.40,234.74 L505.52,235.30 L505.64,235.87 L505.76,236.43 L505.88,236.99 L506.00,237.56 L506.12,238.12 L506.24,238.68 L506.35,239.25 L506.47,239.81 L506.59,240.37 L506.70,240.94 L506.82,241.50 L506.94,242.07 L507.05,242.63 L507.16,243.20 L507.28,243.76 L507.39,244.33 L507.50,244.89 L507.62,245.46 L507.73,246.02 L507.84,246.59 L507.95,247.15 L508.06,247.72 L508.17,248.28 L508.28,248.85 L508.39,249.42 L508.50,249.98 L508.61,250.55 L508.72,251.12 L508.83,251.68 L508.93,252.25 L509.04,252.82 L509.15,253.38 L509.25,253.95 L509.36,254.52 L509.47,255.08 L509.57,255.65 L509.68,256.22 L509.78,256.78 L509.88,257.35 L509.99,257.92 L510.09,258.49 L510.19,259.06 L510.29,259.62 L510.40,260.19 L510.50,260.76 L510.60,261.33 L510.70,261.90 L510.80,262.46 L510.90,263.03 L511.00,263.60 L511.10,264.17 L511.20,264.74 L511.29,265.31 L511.39,265.88 L511.49,266.45 L511.59,267.01 L511.68,267.58 L511.78,268.15 L511.87,268.72 L511.97,269.29 L512.07,269.86 L512.16,270.43 L512.25,271.00 L512.35,271.57 L512.44,272.14 L512.54,272.71 L512.63,273.28 L512.72,273.85 L512.81,274.42 L512.90,274.99 L513.00,275.56 L513.09,276.13 L513.18,276.70 L513.27,277.27 L513.36,277.84 L513.45,278.41 L513.54,278.98 L513.63,279.55 L513.71,280.12 L513.80,280.69 L513.89,281.26 L513.98,281.84 L514.06,282.41 L514.15,282.98 L514.24,283.55 L514.32,284.12 L514.41,284.69 L514.49,285.26 L514.58,285.83 L514.66,286.40 L514.75,286.98 L514.83,287.55 L514.92,288.12 L515.00,288.69 L515.08,289.26 L515.16,289.83 L515.25,290.40 L515.33,290.98 L515.41,291.55 L515.49,292.12 L515.57,292.69 L515.65,293.26 L515.73,293.83 L515.81,294.41 L515.89,294.98 L515.97,295.55 L516.05,296.12 L516.13,296.69 L516.21,297.27 L516.29,297.84 L516.37,298.41 L516.44,298.98 L516.52,299.55 L516.60,300.13 L516.67,300.70 L516.75,301.27 L516.83,301.84 L516.90,302.41 L516.98,302.99 L517.05,303.56 L517.13,304.13 L517.20,304.70 L517.28,305.28 L517.35,305.85 L517.42,306.42 L517.50,306.99 L517.57,307.57 L517.64,308.14 L517.71,308.71 L517.79,309.28 L517.86,309.86 L517.93,310.43 L518.00,311.00 L518.07,311.57 L518.14,312.14 L518.21,312.72 L518.28,313.29 L518.35,313.86 L518.42,314.43 L518.49,315.01 L518.56,315.58 L518.63,316.15 L518.70,316.72 L518.77,317.30 L518.83,317.87 L518.90,318.44 L518.97,319.01 L519.04,319.59 L519.10,320.16 L519.17,320.73 L519.24,321.30 L519.30,321.88 L519.37,322.45 L519.43,323.02 L519.50,323.59 L519.56,324.17 L519.63,324.74 L519.69,325.31 L519.76,325.88 L519.82,326.45 L519.89,327.03 L519.95,327.60 L520.01,328.17 L520.08,328.74 L520.14,329.31 L520.20,329.89 L520.26,330.46 L520.33,331.03 L520.39,331.60 L520.45,332.17 L520.51,332.75 L520.57,333.32 L520.63,333.89 L520.70,334.46 L520.76,335.03 L520.82,335.61 L520.88,336.18 L520.94,336.75 L521.00,337.32 L521.06,337.89 L521.11,338.46 L521.17,339.04 L521.23,339.61 L521.29,340.18 L521.35,340.75 L521.41,341.32 L521.47,341.89 L521.52,342.46 L521.58,343.03 L521.64,343.61 L521.69,344.18 L521.75,344.75 L521.81,345.32 L521.86,345.89 L521.92,346.46 L521.98,347.03 L522.03,347.60 L522.09,348.17 L522.14,348.74 L522.20,349.31 L522.25,349.88 L522.31,350.45 L522.36,351.03 L522.42,351.60 L522.47,352.17 L522.53,352.74 L522.58,353.31 L522.63,353.88 L522.69,354.45 L522.74,355.02 L522.80,355.59 L522.85,356.16 L522.90,356.73 L522.95,357.29 L523.01,357.86 L523.06,358.43 L523.11,359.00 L523.16,359.57 L523.21,360.14 L523.27,360.71 L523.32,361.28 L523.37,361.85 L523.42,362.42 L523.47,362.99 L523.52,363.56 L523.57,364.12 L523.62,364.69 L523.67,365.26 L523.72,365.83 L523.77,366.40 L523.82,366.97 L523.87,367.53 L523.92,368.10 L523.97,368.67 L524.02,369.24 L524.07,369.80 L524.12,370.37 L524.17,370.94 L524.22,371.51 L524.27,372.07 L524.31,372.64 L524.36,373.21 L524.41,373.78 L524.46,374.34 L524.51,374.91 L524.56,375.48 L524.60,376.04 L524.65,376.61 L524.70,377.18 L524.74,377.74 L524.79,378.31" fill="none" stroke="#1ee61e" stroke-width="1.8" stroke-linejoin="round"/>
<g fill="#1ee61e"><use href="#tri" x="84.89" y="314.62"/><use href="#tri" x="85.47" y="313.46"/><use href="#tri" x="86.04" y="312.29"/><use href="#tri" x="86.62" y="311.13"/><use href="#tri" x="87.20" y="309.96"/><use href="#tri" x="87.78" y="308.80"/><use href="#tri" x="88.36" y="307.64"/><use href="#tri" x="88.94" y="306.47"/><use href="#tri" x="89.52" y="305.31"/><use href="#tri" x="90.10" y="304.15"/><use href="#tri" x="90.68" y="302.98"/><use href="#tri" x="91.26" y="301.82"/><use href="#tri" x="91.85" y="300.66"/><use href="#tri" x="92.43" y="299.50"/><use href="#tri" x="93.01" y="298.34"/><use href="#tri" x="93.60" y="297.18"/><use href="#tri" x="94.18" y="296.01"/><use href="#tri" x="94.77" y="294.85"/><use href="#tri" x="95.36" y="293.69"/><use href="#tri" x="95.94" y="292.53"/><use href="#tri" x="96.53" y="291.37"/><use href="#tri" x="97.12" y="290.22"/><use href="#tri" x="97.71" y="289.06"/><use href="#tri" x="98.30" y="287.90"/><use href="#tri" x="98.89" y="286.74"/><use href="#tri" x="99.48" y="285.58"/><use href="#tri" x="100.07" y="284.43"/><use href="#tri" x="100.67" y="283.27"/><use href="#tri" x="101.26" y="282.11"/><use href="#tri" x="101.85" y="280.96"/><use href="#tri" x="102.45" y="279.80"/><use href="#tri" x="103.05" y="278.64"/><use href="#tri" x="103.64" y="277.49"/><use href="#tri" x="104.24" y="276.34"/><use href="#tri" x="104.84" y="275.18"/><use href="#tri" x="105.44" y="274.03"/><use href="#tri" x="106.04" y="272.87"/><use href="#tri" x="106.64" y="271.72"/><use href="#tri" x="107.24" y="270.57"/><use href="#tri" x="107.84" y="269.42"/><use href="#tri" x="108.44" y="268.26"/><use href="#tri" x="109.05" y="267.11"/><use href="#tri" x="109.65" y="265.96"/><use href="#tri" x="110.25" y="264.81"/><use href="#tri" x="110.86" y="263.66"/><use href="#tri" x="111.47" y="262.51"/><use href="#tri" x="112.07" y="261.36"/><use href="#tri" x="112.68" y="260.21"/><use href="#tri" x="113.29" y="259.06"/><use href="#tri" x="113.90" y="257.92"/><use href="#tri" x="114.51" y="256.77"/><use href="#tri" x="115.13" y="255.62"/><use href="#tri" x="115.74" y="254.47"/><use href="#tri" x="116.35" y="253.33"/><use href="#tri" x="116.97" y="252.18"/><use href="#tri" x="117.58" y="251.04"/><use href="#tri" x="118.20" y="249.89"/><use href="#tri" x="118.81" y="248.75"/><use href="#tri" x="119.43" y="247.61"/><use href="#tri" x="120.05" y="246.46"/><use href="#tri" x="120.67" y="245.32"/><use href="#tri" x="121.30" y="244.16"/><use href="#tri" x="121.94" y="242.98"/><use href="#tri" x="122.59" y="241.79"/><use href="#tri" x="123.25" y="240.59"/><use href="#tri" x="123.92" y="239.37"/><use href="#tri" x="124.60" y="238.13"/><use href="#tri" x="125.29" y="236.87"/><use href="#tri" x="125.99" y="235.60"/><use href="#tri" x="126.70" y="234.31"/><use href="#tri" x="127.43" y="233.01"/><use href="#tri" x="128.16" y="231.68"/><use href="#tri" x="128.91" y="230.34"/><use href="#tri" x="129.67" y="228.98"/><use href="#tri" x="130.44" y="227.61"/><use href="#tri" x="131.22" y="226.21"/><use href="#tri" x="132.01" y="224.80"/><use href="#tri" x="132.82" y="223.36"/><use href="#tri" x="133.64" y="221.91"/><use href="#tri" x="134.48" y="220.44"/><use href="#tri" x="135.33" y="218.95"/><use href="#tri" x="136.19" y="217.43"/><use href="#tri" x="137.06" y="215.90"/><use href="#tri" x="137.95" y="214.35"/><use href="#tri" x="138.86" y="212.77"/><use href="#tri" x="139.78" y="211.18"/><use href="#tri" x="140.72" y="209.56"/><use href="#tri" x="141.67" y="207.92"/><use href="#tri" x="142.64" y="206.26"/><use href="#tri" x="143.62" y="204.58"/><use href="#tri" x="144.62" y="202.87"/><use href="#tri" x="145.64" y="201.14"/><use href="#tri" x="146.68" y="199.39"/><use href="#tri" x="147.73" y="197.61"/><use href="#tri" x="148.81" y="195.81"/><use href="#tri" x="149.90" y="193.98"/><use href="#tri" x="151.01" y="192.13"/><use href="#tri" x="152.14" y="190.25"/><use href="#tri" x="153.29" y="188.35"/><use href="#tri" x="154.46" y="186.42"/><use href="#tri" x="155.66" y="184.46"/><use href="#tri" x="156.87" y="182.48"/><use href="#tri" x="158.11" y="180.47"/><use href="#tri" x="159.37" y="178.43"/><use href="#tri" x="160.65" y="176.37"/><use href="#tri" x="161.96" y="174.27"/><use href="#tri" x="163.29" y="172.15"/><use href="#tri" x="164.65" y="170.00"/><use href="#tri" x="166.03" y="167.82"/><use href="#tri" x="167.44" y="165.60"/><use href="#tri" x="168.88" y="163.36"/><use href="#tri" x="170.34" y="161.08"/><use href="#tri" x="171.83" y="158.78"/><use href="#tri" x="173.36" y="156.44"/><use href="#tri" x="174.91" y="154.07"/><use href="#tri" x="176.49" y="151.67"/><use href="#tri" x="178.11" y="149.23"/><use href="#tri" x="179.76" y="146.76"/><use href="#tri" x="181.44" y="144.25"/><use href="#tri" x="183.16" y="141.71"/><use href="#tri" x="184.91" y="139.13"/><use href="#tri" x="186.70" y="136.52"/><use href="#tri" x="188.52" y="133.87"/><use href="#tri" x="190.39" y="131.19"/><use href="#tri" x="192.29" y="128.46"/><use href="#tri" x="194.24" y="125.70"/><use href="#tri" x="196.23" y="122.90"/><use href="#tri" x="198.26" y="120.06"/><use href="#tri" x="200.34" y="117.19"/><use href="#tri" x="202.46" y="114.28"/><use href="#tri" x="204.60" y="111.38"/><use href="#tri" x="206.76" y="108.50"/><use href="#tri" x="208.93" y="105.63"/><use href="#tri" x="211.12" y="102.78"/><use href="#tri" x="213.34" y="99.94"/><use href="#tri" x="215.57" y="97.11"/><use href="#tri" x="217.82" y="94.30"/><use href="#tri" x="220.10" y="91.52"/><use href="#tri" x="222.40" y="88.75"/><use href="#tri" x="224.73" y="86.00"/><use href="#tri" x="227.08" y="83.28"/><use href="#tri" x="229.46" y="80.57"/><use href="#tri" x="231.87" y="77.90"/><use href="#tri" x="234.30" y="75.24"/><use href="#tri" x="236.77" y="72.62"/><use href="#tri" x="239.26" y="70.02"/><use href="#tri" x="241.79" y="67.46"/><use href="#tri" x="244.34" y="64.92"/><use href="#tri" x="246.93" y="62.42"/><use href="#tri" x="249.55" y="59.95"/><use href="#tri" x="252.21" y="57.52"/><use href="#tri" x="254.89" y="55.13"/><use href="#tri" x="257.62" y="52.77"/><use href="#tri" x="260.37" y="50.45"/><use href="#tri" x="263.16" y="48.18"/><use href="#tri" x="265.99" y="45.95"/><use href="#tri" x="268.85" y="43.76"/><use href="#tri" x="271.74" y="41.62"/><use href="#tri" x="274.67" y="39.53"/><use href="#tri" x="277.63" y="37.49"/><use href="#tri" x="280.63" y="35.49"/><use href="#tri" x="283.66" y="33.55"/><use href="#tri" x="286.73" y="31.67"/><use href="#tri" x="289.83" y="29.84"/><use href="#tri" x="292.97" y="28.07"/><use href="#tri" x="296.15" y="26.38"/><use href="#tri" x="299.36" y="24.76"/><use href="#tri" x="302.61" y="23.21"/><use href="#tri" x="305.90" y="21.75"/><use href="#tri" x="309.23" y="20.37"/><use href="#tri" x="312.59" y="19.09"/><use href="#tri" x="315.99" y="17.92"/><use href="#tri" x="319.43" y="16.85"/><use href="#tri" x="322.90" y="15.90"/><use href="#tri" x="326.41" y="15.07"/><use href="#tri" x="329.94" y="14.37"/><use href="#tri" x="333.49" y="13.80"/><use href="#tri" x="337.07" y="13.39"/><use href="#tri" x="340.66" y="13.12"/><use href="#tri" x="344.26" y="12.99"/><use href="#tri" x="347.85" y="13.01"/><use href="#tri" x="351.45" y="13.17"/><use href="#tri" x="355.04" y="13.47"/><use href="#tri" x="358.61" y="13.91"/><use href="#tri" x="362.16" y="14.48"/><use href="#tri" x="365.69" y="15.19"/><use href="#tri" x="369.19" y="16.04"/><use href="#tri" x="372.66" y="17.01"/><use href="#tri" x="376.08" y="18.12"/><use href="#tri" x="379.46" y="19.37"/><use href="#tri" x="382.79" y="20.74"/><use href="#tri" x="386.07" y="22.25"/><use href="#tri" x="389.31" y="23.90"/><use href="#tri" x="392.50" y="25.68"/><use href="#tri" x="395.66" y="27.58"/><use href="#tri" x="398.76" y="29.62"/><use href="#tri" x="401.82" y="31.78"/><use href="#tri" x="404.83" y="34.06"/><use href="#tri" x="407.80" y="36.45"/><use href="#tri" x="410.71" y="38.96"/><use href="#tri" x="413.58" y="41.58"/><use href="#tri" x="416.41" y="44.30"/><use href="#tri" x="419.19" y="47.13"/><use href="#tri" x="421.92" y="50.06"/><use href="#tri" x="424.62" y="53.08"/><use href="#tri" x="427.28" y="56.20"/><use href="#tri" x="429.90" y="59.41"/><use href="#tri" x="432.48" y="62.71"/><use href="#tri" x="435.01" y="66.06"/><use href="#tri" x="437.48" y="69.46"/><use href="#tri" x="439.89" y="72.89"/><use href="#tri" x="442.26" y="76.36"/><use href="#tri" x="444.58" y="79.86"/><use href="#tri" x="446.85" y="83.39"/><use href="#tri" x="449.09" y="86.95"/><use href="#tri" x="451.28" y="90.54"/><use href="#tri" x="453.42" y="94.15"/><use href="#tri" x="455.53" y="97.78"/><use href="#tri" x="457.59" y="101.44"/><use href="#tri" x="459.61" y="105.12"/><use href="#tri" x="461.59" y="108.82"/><use href="#tri" x="463.53" y="112.55"/><use href="#tri" x="465.43" y="116.30"/><use href="#tri" x="467.29" y="120.06"/><use href="#tri" x="469.10" y="123.85"/><use href="#tri" x="470.88" y="127.66"/><use href="#tri" x="472.62" y="131.48"/><use href="#tri" x="474.31" y="135.32"/><use href="#tri" x="475.97" y="139.18"/><use href="#tri" x="477.59" y="143.05"/><use href="#tri" x="479.84" y="148.62"/><use href="#tri" x="482.02" y="154.21"/><use href="#tri" x="484.12" y="159.83"/><use href="#tri" x="486.15" y="165.48"/><use href="#tri" x="488.10" y="171.15"/><use href="#tri" x="489.99" y="176.84"/><use href="#tri" x="491.81" y="182.56"/><use href="#tri" x="493.56" y="188.30"/><use href="#tri" x="495.25" y="194.06"/><use href="#tri" x="496.88" y="199.83"/><use href="#tri" x="498.45" y="205.62"/><use href="#tri" x="499.95" y="211.43"/><use href="#tri" x="501.40" y="217.25"/><use href="#tri" x="502.79" y="223.09"/><use href="#tri" x="504.13" y="228.94"/><use href="#tri" x="505.41" y="234.80"/><use href="#tri" x="506.65" y="240.67"/><use href="#tri" x="507.83" y="246.55"/><use href="#tri" x="508.97" y="252.44"/><use href="#tri" x="510.02" y="258.12"/><use href="#tri" x="510.94" y="263.26"/><use href="#tri" x="511.74" y="267.93"/><use href="#tri" x="512.45" y="272.17"/><use href="#tri" x="513.07" y="276.02"/><use href="#tri" x="513.62" y="279.50"/><use href="#tri" x="514.10" y="282.66"/><use href="#tri" x="514.53" y="285.53"/><use href="#tri" x="514.92" y="288.12"/><use href="#tri" x="515.26" y="290.48"/><use href="#tri" x="515.57" y="292.66"/><use href="#tri" x="515.87" y="294.83"/><use href="#tri" x="516.17" y="297.01"/><use href="#tri" x="516.47" y="299.19"/><use href="#tri" x="516.76" y="301.37"/><use href="#tri" x="517.05" y="303.56"/><use href="#tri" x="517.33" y="305.74"/><use href="#tri" x="517.61" y="307.92"/><use href="#tri" x="517.89" y="310.10"/><use href="#tri" x="518.16" y="312.28"/><use href="#tri" x="518.43" y="314.47"/><use href="#tri" x="518.69" y="316.65"/><use href="#tri" x="518.95" y="318.84"/><use href="#tri" x="519.20" y="321.02"/><use href="#tri" x="519.46" y="323.21"/><use href="#tri" x="519.70" y="325.39"/><use href="#tri" x="519.95" y="327.58"/><use href="#tri" x="520.19" y="329.77"/><use href="#tri" x="520.43" y="331.95"/><use href="#tri" x="520.66" y="334.14"/><use href="#tri" x="520.89" y="336.33"/><use href="#tri" x="521.12" y="338.52"/><use href="#tri" x="521.34" y="340.71"/><use href="#tri" x="521.57" y="342.90"/><use href="#tri" x="521.79" y="345.08"/><use href="#tri" x="522.00" y="347.27"/><use href="#tri" x="522.21" y="349.46"/><use href="#tri" x="522.42" y="351.65"/><use href="#tri" x="522.63" y="353.84"/><use href="#tri" x="522.84" y="356.03"/><use href="#tri" x="523.04" y="358.22"/><use href="#tri" x="523.24" y="360.42"/><use href="#tri" x="523.44" y="362.61"/><use href="#tri" x="523.63" y="364.80"/><use href="#tri" x="523.83" y="366.99"/><use href="#tri" x="524.02" y="369.18"/><use href="#tri" x="524.21" y="371.37"/><use href="#tri" x="524.39" y="373.57"/><use href="#tri" x="524.58" y="375.76"/><use href="#tri" x="524.76" y="377.95"/></g>
<path d="M61.65,294.61 L65.39,287.54 L65.65,287.04 L65.91,286.55 L66.17,286.05 L66.44,285.56 L66.70,285.07 L66.97,284.58 L67.23,284.08 L67.50,283.59 L67.77,283.10 L68.04,282.61 L68.30,282.12 L68.57,281.63 L68.84,281.14 L69.11,280.65 L69.39,280.17 L69.66,279.68 L69.93,279.19 L70.20,278.71 L70.48,278.22 L70.75,277.74 L71.03,277.25 L71.30,276.77 L71.58,276.28 L71.86,275.80 L72.14,275.32 L72.42,274.84 L72.70,274.36 L72.98,273.88 L73.26,273.40 L73.54,272.92 L73.82,272.44 L74.10,271.96 L74.38,271.48 L74.67,271.00 L74.95,270.53 L75.24,270.05 L75.52,269.58 L75.81,269.10 L76.10,268.63 L76.38,268.15 L76.67,267.68 L76.96,267.21 L77.25,266.73 L77.54,266.26 L77.83,265.79 L78.12,265.32 L78.41,264.85 L78.71,264.38 L79.00,263.91 L79.29,263.45 L79.59,262.98 L79.88,262.51 L80.18,262.04 L80.47,261.58 L80.77,261.11 L81.07,260.65 L81.37,260.18 L81.66,259.72 L81.96,259.26 L82.26,258.80 L82.56,258.33 L82.86,257.87 L83.16,257.41 L83.46,256.95 L83.77,256.49 L84.07,256.03 L84.37,255.57 L84.68,255.12 L84.98,254.66 L85.29,254.20 L85.59,253.75 L85.90,253.29 L86.20,252.83 L86.51,252.38 L86.82,251.93 L87.13,251.47 L87.44,251.02 L87.74,250.57 L88.05,250.12 L88.36,249.67 L88.68,249.21 L88.99,248.76 L89.30,248.32 L89.61,247.87 L89.92,247.42 L90.24,246.97 L90.55,246.52 L90.87,246.08 L91.18,245.63 L91.50,245.19 L91.81,244.74 L92.13,244.30 L92.44,243.85 L92.76,243.41 L93.08,242.97 L93.40,242.53 L93.72,242.08 L94.04,241.64 L94.36,241.20 L94.68,240.76 L95.00,240.32 L95.32,239.89 L95.64,239.45 L95.96,239.01 L96.28,238.57 L96.61,238.14 L96.93,237.70 L97.26,237.27 L97.58,236.83 L97.90,236.40 L98.23,235.97 L98.56,235.53 L98.88,235.10 L99.21,234.67 L99.54,234.24 L99.86,233.81 L100.19,233.38 L100.52,232.95 L100.85,232.52 L101.18,232.09 L101.51,231.67 L101.84,231.24 L102.17,230.81 L102.50,230.39 L102.83,229.96 L103.16,229.54 L103.49,229.11 L103.83,228.69 L104.16,228.27 L104.49,227.85 L104.83,227.43 L105.16,227.00 L105.50,226.58 L105.83,226.16 L106.17,225.75 L106.50,225.33 L106.84,224.91 L107.18,224.49 L107.51,224.07 L107.85,223.66 L108.19,223.24 L108.53,222.83 L108.86,222.41 L109.20,222.00 L109.54,221.59 L109.88,221.17 L110.22,220.76 L110.56,220.35 L110.90,219.94 L111.25,219.53 L111.59,219.12 L111.93,218.71 L112.27,218.30 L112.61,217.89 L112.96,217.48 L113.30,217.08 L113.64,216.67 L113.99,216.26 L114.33,215.86 L114.68,215.45 L115.02,215.05 L115.37,214.64 L115.71,214.24 L116.06,213.84 L116.41,213.43 L116.75,213.03 L117.10,212.63 L117.45,212.22 L117.80,211.82 L118.14,211.42 L118.49,211.02 L118.84,210.62 L119.19,210.22 L119.54,209.82 L119.89,209.42 L120.24,209.02 L120.59,208.63 L120.94,208.23 L121.30,207.83 L121.65,207.43 L122.00,207.03 L122.35,206.64 L122.70,206.24 L123.06,205.84 L123.41,205.45 L123.77,205.05 L124.12,204.66 L124.47,204.26 L124.83,203.87 L125.18,203.47 L125.54,203.08 L125.90,202.68 L126.25,202.29 L126.61,201.90 L126.96,201.50 L127.32,201.11 L127.68,200.71 L128.04,200.32 L128.40,199.93 L128.75,199.54 L129.11,199.14 L129.47,198.75 L129.83,198.36 L130.19,197.97 L130.55,197.57 L130.91,197.18 L131.27,196.79 L131.63,196.40 L131.99,196.01 L132.36,195.62 L132.72,195.23 L133.08,194.83 L133.44,194.44 L133.80,194.05 L134.17,193.66 L134.53,193.27 L134.89,192.88 L135.26,192.49 L135.62,192.10 L135.99,191.71 L136.35,191.32 L136.71,190.93 L137.08,190.54 L137.44,190.15 L137.81,189.76 L138.17,189.37 L138.54,188.98 L138.91,188.59 L139.27,188.20 L139.64,187.81 L140.00,187.42 L140.37,187.03 L140.74,186.64 L141.11,186.25 L141.47,185.86 L141.84,185.47 L142.21,185.08 L142.57,184.69 L142.94,184.30 L143.31,183.91 L143.68,183.52 L144.05,183.13 L144.41,182.74 L144.78,182.35 L145.15,181.96 L145.52,181.57 L145.89,181.19 L146.26,180.80 L146.63,180.41 L146.99,180.02 L147.36,179.63 L147.73,179.24 L148.10,178.85 L148.47,178.46 L148.84,178.07 L149.21,177.68 L149.58,177.28 L149.95,176.89 L150.32,176.50 L150.69,176.11 L151.06,175.72 L151.43,175.33 L151.80,174.94 L152.17,174.55 L152.54,174.16 L152.91,173.77 L153.28,173.38 L153.65,172.99 L154.02,172.59 L154.39,172.20 L154.76,171.81 L155.13,171.42 L155.50,171.03 L155.87,170.63 L156.24,170.24 L156.61,169.85 L156.98,169.46 L157.34,169.06 L157.71,168.67 L158.08,168.28 L158.45,167.89 L158.82,167.49 L159.19,167.10 L159.56,166.70 L159.93,166.31 L160.30,165.92 L160.67,165.52 L161.04,165.13 L161.41,164.73 L161.78,164.34 L162.15,163.94 L162.52,163.55 L162.88,163.15 L163.25,162.76 L163.62,162.36 L163.99,161.97 L164.36,161.57 L164.73,161.18 L165.10,160.78 L165.47,160.38 L165.84,159.99 L166.20,159.59 L166.57,159.20 L166.94,158.80 L167.31,158.40 L167.68,158.01 L168.05,157.61 L168.42,157.21 L168.79,156.82 L169.15,156.42 L169.52,156.02 L169.89,155.62 L170.26,155.23 L170.63,154.83 L171.00,154.43 L171.37,154.04 L171.74,153.64 L172.11,153.24 L172.47,152.84 L172.84,152.44 L173.21,152.05 L173.58,151.65 L173.95,151.25 L174.32,150.85 L174.69,150.45 L175.06,150.06 L175.43,149.66 L175.79,149.26 L176.16,148.86 L176.53,148.46 L176.90,148.06 L177.27,147.67 L177.64,147.27 L178.01,146.87 L178.38,146.47 L178.75,146.07 L179.12,145.67 L179.49,145.28 L179.86,144.88 L180.23,144.48 L180.60,144.08 L180.97,143.68 L181.34,143.28 L181.71,142.88 L182.08,142.49 L182.45,142.09 L182.82,141.69 L183.19,141.29 L183.56,140.89 L183.93,140.49 L184.30,140.09 L184.67,139.70 L185.04,139.30 L185.41,138.90 L185.78,138.50 L186.15,138.10 L186.52,137.70 L186.90,137.31 L187.27,136.91 L187.64,136.51 L188.01,136.11 L188.38,135.71 L188.75,135.31 L189.12,134.92 L189.50,134.52 L189.87,134.12 L190.24,133.72 L190.61,133.32 L190.98,132.93 L191.36,132.53 L191.73,132.13 L192.10,131.73 L192.47,131.34 L192.85,130.94 L193.22,130.54 L193.59,130.14 L193.97,129.75 L194.34,129.35 L194.71,128.95 L195.09,128.56 L195.46,128.16 L195.83,127.76 L196.21,127.37 L196.58,126.97 L196.96,126.57 L197.33,126.18 L197.71,125.78 L198.08,125.39 L198.46,124.99 L198.83,124.59 L199.21,124.20 L199.58,123.80 L199.96,123.41 L200.33,123.01 L200.71,122.62 L201.09,122.22 L201.46,121.83 L201.84,121.43 L202.21,121.04 L202.59,120.64 L202.97,120.25 L203.35,119.86 L203.72,119.46 L204.10,119.07 L204.48,118.68 L204.86,118.28 L205.23,117.89 L205.61,117.50 L205.99,117.10 L206.37,116.71 L206.75,116.32 L207.13,115.93 L207.51,115.53 L207.89,115.14 L208.27,114.75 L208.65,114.36 L209.03,113.97 L209.41,113.58 L209.79,113.18 L210.17,112.79 L210.55,112.40 L210.93,112.01 L211.31,111.62 L211.69,111.23 L212.07,110.84 L212.46,110.45 L212.84,110.06 L213.22,109.68 L213.60,109.29 L213.99,108.90 L214.37,108.51 L214.75,108.12 L215.14,107.73 L215.52,107.35 L215.90,106.96 L216.29,106.57 L216.67,106.18 L217.06,105.80 L217.44,105.41 L217.83,105.03 L218.21,104.64 L218.60,104.25 L218.99,103.87 L219.37,103.48 L219.76,103.10 L220.15,102.71 L220.53,102.33 L220.92,101.95 L221.31,101.56 L221.70,101.18 L222.08,100.80 L222.47,100.41 L222.86,100.03 L223.25,99.65 L223.64,99.27 L224.03,98.88 L224.42,98.50 L224.81,98.12 L225.20,97.74 L225.59,97.36 L225.98,96.98 L226.37,96.60 L226.77,96.22 L227.16,95.84 L227.55,95.46 L227.94,95.09 L228.34,94.71 L228.73,94.33 L229.12,93.95 L229.52,93.58 L229.91,93.20 L230.30,92.82 L230.70,92.45 L231.09,92.07 L231.49,91.70 L231.89,91.32 L232.28,90.95 L232.68,90.57 L233.07,90.20 L233.47,89.82 L233.87,89.45 L234.27,89.08 L234.67,88.71 L235.06,88.34 L235.46,87.96 L235.86,87.59 L236.26,87.22 L236.66,86.85 L237.06,86.48 L237.46,86.11 L237.86,85.75 L238.27,85.38 L238.67,85.01 L239.07,84.64 L239.47,84.28 L239.88,83.91 L240.28,83.55 L240.68,83.18 L241.09,82.82 L241.49,82.45 L241.90,82.09 L242.30,81.72 L242.71,81.36 L243.12,81.00 L243.52,80.64 L243.93,80.28 L244.34,79.92 L244.75,79.56 L245.15,79.20 L245.56,78.84 L245.97,78.48 L246.38,78.12 L246.79,77.77 L247.20,77.41 L247.61,77.05 L248.03,76.70 L248.44,76.34 L248.85,75.99 L249.26,75.64 L249.68,75.28 L250.09,74.93 L250.51,74.58 L250.92,74.23 L251.34,73.88 L251.75,73.53 L252.17,73.18 L252.59,72.83 L253.00,72.48 L253.42,72.14 L253.84,71.79 L254.26,71.44 L254.68,71.10 L255.10,70.75 L255.52,70.41 L255.94,70.07 L256.36,69.72 L256.78,69.38 L257.21,69.04 L257.63,68.70 L258.05,68.36 L258.48,68.02 L258.90,67.68 L259.33,67.35 L259.75,67.01 L260.18,66.67 L260.61,66.34 L261.03,66.00 L261.46,65.67 L261.89,65.34 L262.32,65.01 L262.75,64.67 L263.18,64.34 L263.61,64.01 L264.04,63.69 L264.48,63.36 L264.91,63.03 L265.34,62.70 L265.78,62.38 L266.21,62.05 L266.64,61.73 L267.08,61.41 L267.52,61.08 L267.95,60.76 L268.39,60.44 L268.83,60.12 L269.27,59.80 L269.71,59.48 L270.15,59.17 L270.59,58.85 L271.03,58.53 L271.47,58.22 L271.91,57.90 L272.36,57.59 L272.80,57.28 L273.24,56.97 L273.69,56.66 L274.13,56.35 L274.58,56.04 L275.03,55.73 L275.48,55.43 L275.92,55.12 L276.37,54.82 L276.82,54.51 L277.27,54.21 L277.72,53.91 L278.18,53.61 L278.63,53.31 L279.08,53.01 L279.54,52.71 L279.99,52.41 L280.44,52.11 L280.90,51.82 L281.36,51.53 L281.81,51.23 L282.27,50.94 L282.73,50.65 L283.19,50.36 L283.65,50.07 L284.11,49.78 L284.57,49.49 L285.03,49.21 L285.50,48.92 L285.96,48.64 L286.43,48.36 L286.89,48.07 L287.36,47.79 L287.82,47.51 L288.29,47.24 L288.76,46.96 L289.23,46.68 L289.70,46.41 L290.17,46.13 L290.64,45.86 L291.11,45.59 L291.58,45.32 L292.06,45.05 L292.53,44.78 L293.01,44.51 L293.48,44.24 L293.96,43.98 L294.44,43.71 L294.92,43.45 L295.39,43.19 L295.87,42.93 L296.35,42.67 L296.84,42.41 L297.32,42.15 L297.80,41.90 L298.29,41.64 L298.77,41.39 L299.26,41.13 L299.74,40.88 L300.23,40.63 L300.72,40.38 L301.21,40.14 L301.70,39.89 L302.19,39.64 L302.68,39.40 L303.17,39.16 L303.66,38.92 L304.16,38.68 L304.65,38.44 L305.15,38.20 L305.64,37.96 L306.14,37.73 L306.64,37.49 L307.14,37.26 L307.63,37.03 L308.13,36.80 L308.64,36.57 L309.14,36.35 L309.64,36.12 L310.14,35.90 L310.65,35.68 L311.15,35.46 L311.66,35.24 L312.16,35.02 L312.67,34.81 L313.18,34.59 L313.68,34.38 L314.19,34.17 L314.70,33.96 L315.21,33.75 L315.72,33.55 L316.24,33.35 L316.75,33.14 L317.26,32.94 L317.77,32.75 L318.29,32.55 L318.80,32.35 L319.32,32.16 L319.83,31.97 L320.35,31.78 L320.87,31.60 L321.39,31.41 L321.91,31.23 L322.42,31.05 L322.94,30.87 L323.46,30.69 L323.99,30.51 L324.51,30.34 L325.03,30.17 L325.55,30.00 L326.08,29.83 L326.60,29.67 L327.12,29.51 L327.65,29.35 L328.17,29.19 L328.70,29.03 L329.23,28.88 L329.75,28.73 L330.28,28.58 L330.81,28.43 L331.34,28.28 L331.87,28.14 L332.39,28.00 L332.92,27.86 L333.45,27.73 L333.99,27.60 L334.52,27.46 L335.05,27.34 L335.58,27.21 L336.11,27.09 L336.65,26.97 L337.18,26.85 L337.71,26.73 L338.25,26.62 L338.78,26.51 L339.32,26.40 L339.85,26.29 L340.39,26.19 L340.93,26.09 L341.46,25.99 L342.00,25.90 L342.54,25.80 L343.07,25.72 L343.61,25.63 L344.15,25.54 L344.69,25.46 L345.23,25.38 L345.77,25.31 L346.31,25.23 L346.85,25.16 L347.39,25.10 L347.93,25.03 L348.47,24.97 L349.01,24.91 L349.55,24.86 L350.10,24.80 L350.64,24.75 L351.18,24.71 L351.72,24.66 L352.27,24.62 L352.81,24.58 L353.35,24.55 L353.90,24.52 L354.44,24.49 L354.99,24.46 L355.53,24.44 L356.08,24.42 L356.62,24.40 L357.17,24.39 L357.71,24.38 L358.26,24.38 L358.80,24.37 L359.35,24.37 L359.89,24.38 L360.44,24.38 L360.99,24.39 L361.53,24.40 L362.08,24.42 L362.62,24.44 L363.17,24.46 L363.72,24.49 L364.26,24.52 L364.81,24.55 L365.35,24.58 L365.90,24.62 L366.44,24.66 L366.99,24.70 L367.53,24.75 L368.08,24.80 L368.62,24.85 L369.17,24.91 L369.71,24.97 L370.25,25.03 L370.79,25.10 L371.33,25.17 L371.88,25.24 L372.42,25.31 L372.96,25.39 L373.50,25.47 L374.03,25.55 L374.57,25.64 L375.11,25.72 L375.65,25.82 L376.18,25.91 L376.72,26.01 L377.25,26.11 L377.79,26.21 L378.32,26.32 L378.85,26.42 L379.38,26.53 L379.91,26.65 L380.44,26.77 L380.97,26.89 L381.49,27.01 L382.02,27.13 L382.54,27.26 L383.07,27.39 L383.59,27.52 L384.11,27.66 L384.63,27.80 L385.15,27.94 L385.66,28.08 L386.18,28.23 L386.69,28.38 L387.21,28.53 L387.72,28.68 L388.23,28.84 L388.74,29.00 L389.24,29.16 L389.75,29.33 L390.25,29.50 L390.75,29.67 L391.26,29.84 L391.75,30.01 L392.25,30.19 L392.75,30.37 L393.24,30.55 L393.73,30.74 L394.22,30.92 L394.71,31.11 L395.20,31.31 L395.69,31.50 L396.17,31.70 L396.65,31.90 L397.14,32.10 L397.62,32.30 L398.09,32.51 L398.57,32.72 L399.04,32.93 L399.52,33.14 L399.99,33.36 L400.46,33.58 L400.93,33.80 L401.40,34.02 L401.86,34.25 L402.33,34.47 L402.79,34.70 L403.25,34.94 L403.71,35.17 L404.17,35.41 L404.63,35.65 L405.08,35.89 L405.54,36.13 L405.99,36.38 L406.44,36.63 L406.89,36.88 L407.34,37.13 L407.79,37.38 L408.24,37.64 L408.68,37.90 L409.12,38.16 L409.57,38.42 L410.01,38.69 L410.45,38.96 L410.88,39.23 L411.32,39.50 L411.76,39.77 L412.19,40.05 L412.62,40.33 L413.06,40.61 L413.49,40.89 L413.92,41.17 L414.34,41.46 L414.77,41.75 L415.20,42.04 L415.62,42.33 L416.04,42.63 L416.47,42.93 L416.89,43.22 L417.31,43.52 L417.72,43.83 L418.14,44.13 L418.56,44.44 L418.97,44.75 L419.39,45.06 L419.80,45.37 L420.21,45.69 L420.62,46.00 L421.03,46.32 L421.44,46.64 L421.85,46.96 L422.25,47.29 L422.66,47.61 L423.06,47.94 L423.46,48.27 L423.87,48.60 L424.27,48.93 L424.67,49.27 L425.07,49.61 L425.46,49.95 L425.86,50.29 L426.26,50.63 L426.65,50.97 L427.04,51.32 L427.44,51.67 L427.83,52.02 L428.22,52.37 L428.61,52.72 L429.00,53.08 L429.39,53.43 L429.77,53.79 L430.16,54.15 L430.55,54.51 L430.93,54.87 L431.31,55.24 L431.70,55.61 L432.08,55.97 L432.46,56.34 L432.84,56.72 L433.22,57.09 L433.59,57.46 L433.97,57.84 L434.35,58.22 L434.72,58.60 L435.09,58.98 L435.47,59.36 L435.84,59.74 L436.21,60.13 L436.58,60.52 L436.95,60.90 L437.32,61.29 L437.68,61.68 L438.05,62.08 L438.41,62.47 L438.78,62.87 L439.14,63.26 L439.51,63.66 L439.87,64.06 L440.23,64.46 L440.59,64.87 L440.95,65.27 L441.30,65.68 L441.66,66.08 L442.02,66.49 L442.37,66.90 L442.73,67.31 L443.08,67.72 L443.43,68.14 L443.78,68.55 L444.13,68.97 L444.48,69.39 L444.83,69.80 L445.18,70.22 L445.53,70.64 L445.87,71.07 L446.22,71.49 L446.56,71.91 L446.90,72.34 L447.25,72.77 L447.59,73.20 L447.93,73.62 L448.27,74.06 L448.61,74.49 L448.94,74.92 L449.28,75.35 L449.62,75.79 L449.95,76.22 L450.29,76.66 L450.62,77.10 L450.95,77.54 L451.28,77.98 L451.62,78.42 L451.94,78.86 L452.27,79.31 L452.60,79.75 L452.93,80.19 L453.26,80.64 L453.58,81.09 L453.91,81.54 L454.23,81.99 L454.55,82.44 L454.87,82.89 L455.19,83.34 L455.52,83.79 L455.83,84.24 L456.15,84.70 L456.47,85.15 L456.79,85.61 L457.10,86.07 L457.42,86.53 L457.73,86.98 L458.05,87.44 L458.36,87.90 L458.67,88.37 L458.98,88.83 L459.29,89.29 L459.60,89.75 L459.91,90.22 L460.21,90.68 L460.52,91.15 L460.83,91.62 L461.13,92.08 L461.44,92.55 L461.74,93.02 L462.04,93.49 L462.34,93.96 L462.64,94.43 L462.94,94.90 L463.24,95.37 L463.54,95.84 L463.84,96.32 L464.13,96.79 L464.43,97.27 L464.72,97.74 L465.02,98.22 L465.31,98.69 L465.60,99.17 L465.90,99.65 L466.19,100.12 L466.48,100.60 L466.76,101.08 L467.05,101.56 L467.34,102.04 L467.63,102.52 L467.91,103.00 L468.20,103.48 L468.48,103.96 L468.76,104.44 L469.05,104.92 L469.33,105.41 L469.61,105.89 L469.89,106.37 L470.17,106.86 L470.45,107.34 L470.73,107.82 L471.00,108.31 L471.28,108.79 L471.55,109.28 L471.83,109.77 L472.10,110.25 L472.37,110.74 L472.65,111.22 L472.92,111.71 L473.19,112.20 L473.46,112.69 L473.73,113.17 L474.00,113.66 L474.26,114.15 L474.53,114.64 L474.80,115.13 L475.06,115.62 L475.33,116.10 L475.59,116.59 L475.85,117.08 L476.11,117.57 L476.37,118.06 L476.63,118.56 L476.89,119.05 L477.15,119.54 L477.41,120.03 L477.67,120.52 L477.93,121.01 L478.18,121.51 L478.44,122.00 L478.69,122.49 L478.94,122.98 L479.20,123.48 L479.45,123.97 L479.70,124.47 L479.95,124.96 L480.20,125.45 L480.45,125.95 L480.70,126.44 L480.95,126.94 L481.19,127.43 L481.44,127.93 L481.68,128.43 L481.93,128.92 L482.17,129.42 L482.42,129.92 L482.66,130.41 L482.90,130.91 L483.14,131.41 L483.38,131.91 L483.62,132.41 L483.86,132.90 L484.10,133.40 L484.33,133.90 L484.57,134.40 L484.81,134.90 L485.04,135.40 L485.28,135.90 L485.51,136.40 L485.74,136.90 L485.98,137.40 L486.21,137.90 L486.44,138.40 L486.67,138.90 L486.90,139.41 L487.13,139.91 L487.35,140.41 L487.58,140.91 L487.81,141.42 L488.03,141.92 L488.26,142.42 L488.48,142.92 L488.71,143.43 L488.93,143.93 L489.15,144.44 L489.37,144.94 L489.60,145.45 L489.82,145.95 L490.04,146.46 L490.25,146.96 L490.47,147.47 L490.69,147.97 L490.91,148.48 L491.12,148.98 L491.34,149.49 L491.55,150.00 L491.77,150.50 L491.98,151.01 L492.19,151.52 L492.41,152.03 L492.62,152.53 L492.83,153.04 L493.04,153.55 L493.25,154.06 L493.46,154.57 L493.67,155.08 L493.87,155.59 L494.08,156.10 L494.29,156.61 L494.49,157.12 L494.70,157.63 L494.90,158.14 L495.10,158.65 L495.31,159.16 L495.51,159.67 L495.71,160.18 L495.91,160.69 L496.11,161.20 L496.31,161.72 L496.51,162.23 L496.71,162.74 L496.91,163.25 L497.10,163.76 L497.30,164.28 L497.50,164.79 L497.69,165.30 L497.89,165.82 L498.08,166.33 L498.27,166.85 L498.47,167.36 L498.66,167.87 L498.85,168.39 L499.04,168.90 L499.23,169.42 L499.42,169.93 L499.61,170.45 L499.80,170.97 L499.98,171.48 L500.17,172.00 L500.36,172.51 L500.54,173.03 L500.73,173.55 L500.91,174.06 L501.10,174.58 L501.28,175.10 L501.46,175.62 L501.64,176.13 L501.83,176.65 L502.01,177.17 L502.19,177.69 L502.37,178.21 L502.55,178.72 L502.72,179.24 L502.90,179.76 L503.08,180.28 L503.26,180.80 L503.43,181.32 L503.61,181.84 L503.78,182.36 L503.96,182.88 L504.13,183.40 L504.30,183.92 L504.48,184.44 L504.65,184.96 L504.82,185.48 L504.99,186.01 L505.16,186.53 L505.33,187.05 L505.50,187.57 L505.67,188.09 L505.84,188.61 L506.00,189.14 L506.17,189.66 L506.34,190.18 L506.50,190.71 L506.67,191.23 L506.83,191.75 L507.00,192.28 L507.16,192.80 L507.32,193.32 L507.49,193.85 L507.65,194.37 L507.81,194.90 L507.97,195.42 L508.13,195.94 L508.29,196.47 L508.45,196.99 L508.61,197.52 L508.76,198.04 L508.92,198.57 L509.08,199.10 L509.24,199.62 L509.39,200.15 L509.55,200.67 L509.70,201.20 L509.85,201.73 L510.01,202.25 L510.16,202.78 L510.31,203.31 L510.47,203.83 L510.62,204.36 L510.77,204.89 L510.92,205.42 L511.07,205.94 L511.22,206.47 L511.37,207.00 L511.52,207.53 L511.66,208.06 L511.81,208.59 L511.96,209.11 L512.10,209.64 L512.25,210.17 L512.40,210.70 L512.54,211.23 L512.68,211.76 L512.83,212.29 L512.97,212.82 L513.11,213.35 L513.26,213.88 L513.40,214.41 L513.54,214.94 L513.68,215.47 L513.82,216.00 L513.96,216.53 L514.10,217.06 L514.24,217.59 L514.38,218.12 L514.51,218.66 L514.65,219.19 L514.79,219.72 L514.92,220.25 L515.06,220.78 L515.19,221.31 L515.33,221.85 L515.46,222.38 L515.60,222.91 L515.73,223.44 L515.86,223.98 L516.00,224.51 L516.13,225.04 L516.26,225.58 L516.39,226.11 L516.52,226.64 L516.65,227.18 L516.78,227.71 L516.91,228.24 L517.04,228.78 L517.17,229.31 L517.30,229.85 L517.42,230.38 L517.55,230.91 L517.68,231.45 L517.80,231.98 L517.93,232.52 L518.05,233.05 L518.18,233.59 L518.30,234.12 L518.43,234.66 L518.55,235.19 L518.67,235.73 L518.79,236.26 L518.92,236.80 L519.04,237.34 L519.16,237.87 L519.28,238.41 L519.40,238.94 L519.52,239.48 L519.64,240.02 L519.76,240.55 L519.88,241.09 L519.99,241.63 L520.11,242.16 L520.23,242.70 L520.34,243.24 L520.46,243.77 L520.58,244.31 L520.69,244.85 L520.81,245.39 L520.92,245.92 L521.04,246.46 L521.15,247.00 L521.26,247.54 L521.38,248.08 L521.49,248.61 L521.60,249.15 L521.71,249.69 L521.82,250.23 L521.94,250.77 L522.05,251.31 L522.16,251.85 L522.27,252.38 L522.38,252.92 L522.48,253.46 L522.59,254.00 L522.70,254.54 L522.81,255.08 L522.92,255.62 L523.02,256.16 L523.13,256.70 L523.24,257.24 L523.34,257.78 L523.45,258.32 L523.55,258.86 L523.66,259.40 L523.76,259.94 L523.87,260.48 L523.97,261.02 L524.07,261.56 L524.17,262.10 L524.28,262.64 L524.38,263.18 L524.48,263.72 L524.58,264.26 L524.68,264.80 L524.78,265.34 L524.88,265.88 L524.98,266.42 L525.08,266.97 L525.18,267.51 L525.28,268.05 L525.38,268.59 L525.48,269.13 L525.58,269.67 L525.67,270.21 L525.77,270.76 L525.87,271.30 L525.96,271.84 L526.06,272.38 L526.15,272.92 L526.25,273.47 L526.34,274.01 L526.44,274.55 L526.53,275.09 L526.63,275.63 L526.72,276.18 L526.81,276.72 L526.91,277.26 L527.00,277.80 L527.09,278.35 L527.18,278.89 L527.27,279.43 L527.37,279.98 L527.46,280.52 L527.55,281.06 L527.64,281.60 L527.73,282.15 L527.82,282.69 L527.91,283.23 L528.00,283.78 L528.08,284.32 L528.17,284.86 L528.26,285.41 L528.35,285.95 L528.44,286.49 L528.52,287.04 L528.61,287.58 L528.70,288.12 L528.78,288.67 L528.87,289.21 L528.95,289.76 L529.04,290.30 L529.12,290.84 L529.21,291.39 L529.29,291.93 L529.38,292.48 L529.46,293.02 L529.54,293.56 L529.63,294.11 L529.71,294.65 L529.79,295.20 L529.88,295.74 L529.96,296.29 L530.04,296.83 L530.12,297.37 L530.20,297.92 L530.28,298.46 L530.36,299.01 L530.44,299.55 L530.52,300.10 L530.60,300.64 L530.68,301.19 L530.76,301.73 L530.84,302.28 L530.92,302.82 L531.00,303.37 L531.08,303.91 L531.16,304.46 L531.23,305.00 L531.31,305.55 L531.39,306.09 L531.47,306.64 L531.54,307.18 L531.62,307.73 L531.69,308.27 L531.77,308.82 L531.85,309.36 L531.92,309.91 L532.00,310.45 L532.07,311.00 L532.15,311.54 L532.22,312.09 L532.29,312.63 L532.37,313.18 L532.44,313.72 L532.52,314.27 L532.59,314.81 L532.66,315.36 L532.74,315.90 L532.81,316.45 L532.88,316.99 L532.95,317.54 L533.02,318.09 L533.10,318.63 L533.17,319.18 L533.24,319.72 L533.31,320.27 L533.38,320.81 L533.45,321.36 L533.52,321.90 L533.59,322.45 L533.66,322.99 L533.73,323.54 L533.80,324.09 L533.87,324.63 L533.94,325.18 L534.01,325.72 L534.08,326.27 L534.14,326.81 L534.21,327.36 L534.28,327.90 L534.35,328.45 L534.42,329.00 L534.48,329.54 L534.55,330.09 L534.62,330.63 L534.68,331.18 L534.75,331.72 L534.82,332.27 L534.88,332.81 L534.95,333.36 L535.02,333.90 L535.08,334.45 L535.15,335.00 L535.21,335.54 L535.28,336.09 L535.34,336.63 L535.41,337.18 L535.47,337.72 L535.54,338.27 L535.60,338.81 L535.67,339.36 L535.73,339.90 L535.79,340.45 L535.86,341.00 L535.92,341.54 L535.98,342.09 L536.05,342.63 L536.11,343.18 L536.17,343.72 L536.23,344.27 L536.30,344.81 L536.36,345.36 L536.42,345.90 L536.48,346.45 L536.55,346.99 L536.61,347.54 L536.67,348.08 L536.73,348.63 L536.79,349.17 L536.85,349.72 L536.91,350.26 L536.97,350.81 L537.04,351.35 L537.10,351.90 L537.16,352.44 L537.22,352.99 L537.28,353.53 L537.34,354.08 L537.40,354.62 L537.46,355.17 L537.52,355.71 L537.58,356.25 L537.64,356.80 L537.69,357.34 L537.75,357.89 L537.81,358.43 L537.87,358.98 L537.93,359.52 L537.99,360.07 L538.05,360.61 L538.11,361.15 L538.16,361.70" fill="none" stroke="#ff14c8" stroke-width="1.2" stroke-linejoin="round"/>
<g fill="#ff14c8"><circle cx="61.65" cy="294.61" r="2.0"/><circle cx="65.73" cy="286.89" r="2.0"/><circle cx="66.34" cy="285.74" r="2.0"/><circle cx="66.96" cy="284.59" r="2.0"/><circle cx="67.58" cy="283.45" r="2.0"/><circle cx="68.20" cy="282.31" r="2.0"/><circle cx="68.83" cy="281.17" r="2.0"/><circle cx="69.46" cy="280.03" r="2.0"/><circle cx="70.10" cy="278.90" r="2.0"/><circle cx="70.74" cy="277.77" r="2.0"/><circle cx="71.38" cy="276.64" r="2.0"/><circle cx="72.03" cy="275.51" r="2.0"/><circle cx="72.68" cy="274.38" r="2.0"/><circle cx="73.33" cy="273.26" r="2.0"/><circle cx="73.99" cy="272.14" r="2.0"/><circle cx="74.66" cy="271.02" r="2.0"/><circle cx="75.33" cy="269.91" r="2.0"/><circle cx="76.00" cy="268.79" r="2.0"/><circle cx="76.67" cy="267.68" r="2.0"/><circle cx="77.35" cy="266.57" r="2.0"/><circle cx="78.03" cy="265.47" r="2.0"/><circle cx="78.72" cy="264.36" r="2.0"/><circle cx="79.41" cy="263.26" r="2.0"/><circle cx="80.11" cy="262.16" r="2.0"/><circle cx="80.80" cy="261.06" r="2.0"/><circle cx="81.50" cy="259.97" r="2.0"/><circle cx="82.21" cy="258.87" r="2.0"/><circle cx="82.92" cy="257.78" r="2.0"/><circle cx="83.63" cy="256.70" r="2.0"/><circle cx="84.35" cy="255.61" r="2.0"/><circle cx="85.07" cy="254.53" r="2.0"/><circle cx="85.79" cy="253.45" r="2.0"/><circle cx="86.52" cy="252.37" r="2.0"/><circle cx="87.25" cy="251.29" r="2.0"/><circle cx="87.98" cy="250.22" r="2.0"/><circle cx="88.72" cy="249.15" r="2.0"/><circle cx="89.46" cy="248.08" r="2.0"/><circle cx="90.21" cy="247.01" r="2.0"/><circle cx="90.95" cy="245.95" r="2.0"/><circle cx="91.71" cy="244.89" r="2.0"/><circle cx="92.46" cy="243.83" r="2.0"/><circle cx="93.22" cy="242.77" r="2.0"/><circle cx="93.98" cy="241.72" r="2.0"/><circle cx="94.75" cy="240.67" r="2.0"/><circle cx="95.51" cy="239.62" r="2.0"/><circle cx="96.29" cy="238.57" r="2.0"/><circle cx="97.06" cy="237.53" r="2.0"/><circle cx="97.84" cy="236.49" r="2.0"/><circle cx="98.62" cy="235.45" r="2.0"/><circle cx="99.41" cy="234.41" r="2.0"/><circle cx="100.19" cy="233.38" r="2.0"/><circle cx="100.99" cy="232.34" r="2.0"/><circle cx="101.78" cy="231.31" r="2.0"/><circle cx="102.58" cy="230.29" r="2.0"/><circle cx="103.38" cy="229.26" r="2.0"/><circle cx="104.18" cy="228.24" r="2.0"/><circle cx="104.99" cy="227.22" r="2.0"/><circle cx="105.80" cy="226.20" r="2.0"/><circle cx="106.61" cy="225.19" r="2.0"/><circle cx="107.43" cy="224.18" r="2.0"/><circle cx="108.25" cy="223.17" r="2.0"/><circle cx="109.07" cy="222.16" r="2.0"/><circle cx="109.90" cy="221.15" r="2.0"/><circle cx="110.73" cy="220.15" r="2.0"/><circle cx="111.56" cy="219.15" r="2.0"/><circle cx="112.39" cy="218.16" r="2.0"/><circle cx="113.23" cy="217.16" r="2.0"/><circle cx="114.07" cy="216.17" r="2.0"/><circle cx="114.91" cy="215.18" r="2.0"/><circle cx="115.76" cy="214.19" r="2.0"/><circle cx="116.60" cy="213.20" r="2.0"/><circle cx="117.45" cy="212.22" r="2.0"/><circle cx="118.31" cy="211.24" r="2.0"/><circle cx="119.16" cy="210.26" r="2.0"/><circle cx="120.02" cy="209.28" r="2.0"/><circle cx="120.88" cy="208.30" r="2.0"/><circle cx="121.75" cy="207.31" r="2.0"/><circle cx="122.65" cy="206.30" r="2.0"/><circle cx="123.57" cy="205.27" r="2.0"/><circle cx="124.50" cy="204.23" r="2.0"/><circle cx="125.46" cy="203.17" r="2.0"/><circle cx="126.44" cy="202.09" r="2.0"/><circle cx="127.43" cy="200.99" r="2.0"/><circle cx="128.45" cy="199.87" r="2.0"/><circle cx="129.49" cy="198.73" r="2.0"/><circle cx="130.56" cy="197.57" r="2.0"/><circle cx="131.64" cy="196.39" r="2.0"/><circle cx="132.75" cy="195.19" r="2.0"/><circle cx="133.88" cy="193.97" r="2.0"/><circle cx="135.04" cy="192.72" r="2.0"/><circle cx="136.22" cy="191.46" r="2.0"/><circle cx="137.43" cy="190.17" r="2.0"/><circle cx="138.66" cy="188.85" r="2.0"/><circle cx="139.92" cy="187.51" r="2.0"/><circle cx="141.20" cy="186.15" r="2.0"/><circle cx="142.51" cy="184.76" r="2.0"/><circle cx="143.85" cy="183.35" r="2.0"/><circle cx="145.21" cy="181.90" r="2.0"/><circle cx="146.60" cy="180.43" r="2.0"/><circle cx="148.02" cy="178.93" r="2.0"/><circle cx="149.47" cy="177.40" r="2.0"/><circle cx="150.94" cy="175.84" r="2.0"/><circle cx="152.45" cy="174.25" r="2.0"/><circle cx="153.98" cy="172.63" r="2.0"/><circle cx="155.54" cy="170.98" r="2.0"/><circle cx="157.14" cy="169.29" r="2.0"/><circle cx="158.76" cy="167.56" r="2.0"/><circle cx="160.41" cy="165.80" r="2.0"/><circle cx="162.09" cy="164.00" r="2.0"/><circle cx="163.80" cy="162.17" r="2.0"/><circle cx="165.55" cy="160.30" r="2.0"/><circle cx="167.33" cy="158.39" r="2.0"/><circle cx="169.14" cy="156.44" r="2.0"/><circle cx="170.98" cy="154.45" r="2.0"/><circle cx="172.86" cy="152.42" r="2.0"/><circle cx="174.78" cy="150.36" r="2.0"/><circle cx="176.73" cy="148.25" r="2.0"/><circle cx="178.73" cy="146.10" r="2.0"/><circle cx="180.76" cy="143.91" r="2.0"/><circle cx="182.83" cy="141.67" r="2.0"/><circle cx="184.95" cy="139.40" r="2.0"/><circle cx="187.10" cy="137.08" r="2.0"/><circle cx="189.31" cy="134.72" r="2.0"/><circle cx="191.56" cy="132.32" r="2.0"/><circle cx="193.85" cy="129.87" r="2.0"/><circle cx="196.20" cy="127.38" r="2.0"/><circle cx="198.60" cy="124.84" r="2.0"/><circle cx="201.05" cy="122.26" r="2.0"/><circle cx="203.54" cy="119.66" r="2.0"/><circle cx="206.03" cy="117.06" r="2.0"/><circle cx="208.53" cy="114.47" r="2.0"/><circle cx="211.04" cy="111.89" r="2.0"/><circle cx="213.57" cy="109.32" r="2.0"/><circle cx="216.10" cy="106.76" r="2.0"/><circle cx="218.64" cy="104.21" r="2.0"/><circle cx="221.19" cy="101.68" r="2.0"/><circle cx="223.76" cy="99.15" r="2.0"/><circle cx="226.34" cy="96.64" r="2.0"/><circle cx="228.93" cy="94.14" r="2.0"/><circle cx="231.53" cy="91.65" r="2.0"/><circle cx="234.15" cy="89.19" r="2.0"/><circle cx="236.79" cy="86.74" r="2.0"/><circle cx="239.44" cy="84.30" r="2.0"/><circle cx="242.12" cy="81.89" r="2.0"/><circle cx="244.81" cy="79.50" r="2.0"/><circle cx="247.52" cy="77.13" r="2.0"/><circle cx="250.26" cy="74.79" r="2.0"/><circle cx="253.01" cy="72.48" r="2.0"/><circle cx="255.79" cy="70.19" r="2.0"/><circle cx="258.60" cy="67.93" r="2.0"/><circle cx="261.42" cy="65.70" r="2.0"/><circle cx="264.28" cy="63.51" r="2.0"/><circle cx="267.16" cy="61.35" r="2.0"/><circle cx="270.07" cy="59.22" r="2.0"/><circle cx="273.00" cy="57.14" r="2.0"/><circle cx="275.96" cy="55.09" r="2.0"/><circle cx="278.95" cy="53.09" r="2.0"/><circle cx="281.97" cy="51.13" r="2.0"/><circle cx="285.02" cy="49.22" r="2.0"/><circle cx="288.10" cy="47.35" r="2.0"/><circle cx="291.21" cy="45.53" r="2.0"/><circle cx="294.34" cy="43.77" r="2.0"/><circle cx="297.51" cy="42.05" r="2.0"/><circle cx="300.70" cy="40.39" r="2.0"/><circle cx="303.92" cy="38.79" r="2.0"/><circle cx="307.17" cy="37.25" r="2.0"/><circle cx="310.45" cy="35.76" r="2.0"/><circle cx="313.76" cy="34.35" r="2.0"/><circle cx="317.10" cy="33.01" r="2.0"/><circle cx="320.47" cy="31.74" r="2.0"/><circle cx="323.87" cy="30.55" r="2.0"/><circle cx="327.30" cy="29.45" r="2.0"/><circle cx="330.76" cy="28.44" r="2.0"/><circle cx="334.24" cy="27.53" r="2.0"/><circle cx="337.75" cy="26.72" r="2.0"/><circle cx="341.28" cy="26.03" r="2.0"/><circle cx="344.83" cy="25.44" r="2.0"/><circle cx="348.40" cy="24.98" r="2.0"/><circle cx="351.99" cy="24.64" r="2.0"/><circle cx="355.58" cy="24.44" r="2.0"/><circle cx="359.18" cy="24.37" r="2.0"/><circle cx="362.78" cy="24.45" r="2.0"/><circle cx="366.44" cy="24.66" r="2.0"/><circle cx="370.09" cy="25.01" r="2.0"/><circle cx="373.74" cy="25.50" r="2.0"/><circle cx="377.37" cy="26.13" r="2.0"/><circle cx="380.98" cy="26.89" r="2.0"/><circle cx="384.58" cy="27.78" r="2.0"/><circle cx="388.15" cy="28.82" r="2.0"/><circle cx="391.70" cy="29.99" r="2.0"/><circle cx="395.22" cy="31.31" r="2.0"/><circle cx="398.69" cy="32.77" r="2.0"/><circle cx="402.13" cy="34.38" r="2.0"/><circle cx="405.53" cy="36.12" r="2.0"/><circle cx="408.87" cy="38.01" r="2.0"/><circle cx="412.17" cy="40.04" r="2.0"/><circle cx="415.42" cy="42.19" r="2.0"/><circle cx="418.62" cy="44.48" r="2.0"/><circle cx="421.76" cy="46.90" r="2.0"/><circle cx="424.86" cy="49.43" r="2.0"/><circle cx="427.90" cy="52.08" r="2.0"/><circle cx="430.90" cy="54.85" r="2.0"/><circle cx="433.85" cy="57.72" r="2.0"/><circle cx="436.76" cy="60.70" r="2.0"/><circle cx="439.61" cy="63.78" r="2.0"/><circle cx="442.39" cy="66.92" r="2.0"/><circle cx="445.10" cy="70.13" r="2.0"/><circle cx="447.74" cy="73.39" r="2.0"/><circle cx="450.32" cy="76.70" r="2.0"/><circle cx="452.83" cy="80.06" r="2.0"/><circle cx="455.29" cy="83.47" r="2.0"/><circle cx="457.68" cy="86.91" r="2.0"/><circle cx="460.03" cy="90.40" r="2.0"/><circle cx="462.32" cy="93.92" r="2.0"/><circle cx="464.56" cy="97.47" r="2.0"/><circle cx="466.75" cy="101.05" r="2.0"/><circle cx="468.89" cy="104.66" r="2.0"/><circle cx="471.00" cy="108.30" r="2.0"/><circle cx="473.06" cy="111.96" r="2.0"/><circle cx="475.08" cy="115.65" r="2.0"/><circle cx="477.06" cy="119.35" r="2.0"/><circle cx="478.99" cy="123.08" r="2.0"/><circle cx="480.89" cy="126.83" r="2.0"/><circle cx="482.75" cy="130.59" r="2.0"/><circle cx="484.56" cy="134.38" r="2.0"/><circle cx="486.34" cy="138.19" r="2.0"/><circle cx="488.08" cy="142.01" r="2.0"/><circle cx="490.01" cy="146.41" r="2.0"/><circle cx="491.90" cy="150.82" r="2.0"/><circle cx="493.74" cy="155.25" r="2.0"/><circle cx="495.52" cy="159.71" r="2.0"/><circle cx="497.26" cy="164.18" r="2.0"/><circle cx="498.95" cy="168.68" r="2.0"/><circle cx="500.60" cy="173.19" r="2.0"/><circle cx="502.20" cy="177.71" r="2.0"/><circle cx="503.75" cy="182.25" r="2.0"/><circle cx="505.25" cy="186.81" r="2.0"/><circle cx="506.72" cy="191.38" r="2.0"/><circle cx="508.14" cy="195.97" r="2.0"/><circle cx="509.51" cy="200.57" r="2.0"/><circle cx="510.85" cy="205.18" r="2.0"/><circle cx="512.15" cy="209.80" r="2.0"/><circle cx="513.40" cy="214.43" r="2.0"/><circle cx="514.62" cy="219.07" r="2.0"/><circle cx="515.80" cy="223.73" r="2.0"/><circle cx="516.95" cy="228.39" r="2.0"/><circle cx="518.05" cy="233.06" r="2.0"/><circle cx="519.13" cy="237.74" r="2.0"/><circle cx="520.17" cy="242.42" r="2.0"/><circle cx="521.17" cy="247.12" r="2.0"/><circle cx="522.15" cy="251.82" r="2.0"/><circle cx="523.07" cy="256.41" r="2.0"/><circle cx="523.91" cy="260.71" r="2.0"/><circle cx="524.67" cy="264.74" r="2.0"/><circle cx="525.37" cy="268.52" r="2.0"/><circle cx="526.00" cy="272.06" r="2.0"/><circle cx="526.58" cy="275.37" r="2.0"/><circle cx="527.11" cy="278.48" r="2.0"/><circle cx="527.60" cy="281.39" r="2.0"/><circle cx="528.05" cy="284.11" r="2.0"/><circle cx="528.46" cy="286.66" r="2.0"/><circle cx="528.84" cy="289.05" r="2.0"/><circle cx="529.19" cy="291.28" r="2.0"/><circle cx="529.53" cy="293.46" r="2.0"/><circle cx="529.86" cy="295.63" r="2.0"/><circle cx="530.19" cy="297.81" r="2.0"/><circle cx="530.51" cy="299.98" r="2.0"/><circle cx="530.83" cy="302.16" r="2.0"/><circle cx="531.14" cy="304.34" r="2.0"/><circle cx="531.45" cy="306.52" r="2.0"/><circle cx="531.75" cy="308.69" r="2.0"/><circle cx="532.05" cy="310.87" r="2.0"/><circle cx="532.35" cy="313.05" r="2.0"/><circle cx="532.65" cy="315.23" r="2.0"/><circle cx="532.94" cy="317.42" r="2.0"/><circle cx="533.22" cy="319.60" r="2.0"/><circle cx="533.50" cy="321.78" r="2.0"/><circle cx="533.78" cy="323.96" r="2.0"/><circle cx="534.06" cy="326.14" r="2.0"/><circle cx="534.33" cy="328.33" r="2.0"/><circle cx="534.60" cy="330.51" r="2.0"/><circle cx="534.87" cy="332.69" r="2.0"/><circle cx="535.13" cy="334.88" r="2.0"/><circle cx="535.39" cy="337.06" r="2.0"/><circle cx="535.65" cy="339.25" r="2.0"/><circle cx="535.91" cy="341.43" r="2.0"/><circle cx="536.16" cy="343.62" r="2.0"/><circle cx="536.41" cy="345.80" r="2.0"/><circle cx="536.66" cy="347.99" r="2.0"/><circle cx="536.90" cy="350.18" r="2.0"/><circle cx="537.15" cy="352.36" r="2.0"/><circle cx="537.39" cy="354.55" r="2.0"/><circle cx="537.63" cy="356.74" r="2.0"/><circle cx="537.87" cy="358.93" r="2.0"/><circle cx="538.10" cy="361.11" r="2.0"/></g>
<path d="M84.89,314.62 L85.15,314.10 L85.41,313.58 L85.66,313.06 L85.92,312.54 L86.18,312.02 L86.44,311.50 L86.69,310.99 L86.95,310.47 L87.21,309.95 L87.47,309.43 L87.72,308.91 L87.98,308.39 L88.24,307.87 L88.50,307.35 L88.76,306.84 L89.02,306.32 L89.27,305.80 L89.53,305.28 L89.79,304.76 L90.05,304.25 L90.31,303.73 L90.57,303.21 L90.83,302.69 L91.08,302.18 L91.34,301.66 L91.60,301.14 L91.86,300.63 L92.12,300.11 L92.38,299.60 L92.64,299.08 L92.90,298.56 L93.16,298.05 L93.42,297.53 L93.68,297.02 L93.94,296.50 L94.20,295.99 L94.46,295.47 L94.72,294.96 L94.98,294.44 L95.24,293.93 L95.50,293.41 L95.76,292.90 L96.02,292.38 L96.28,291.87 L96.54,291.36 L96.80,290.84 L97.06,290.33 L97.32,289.82 L97.58,289.30 L97.85,288.79 L98.11,288.28 L98.37,287.76 L98.63,287.25 L98.89,286.74 L99.15,286.23 L99.41,285.71 L99.68,285.20 L99.94,284.69 L100.20,284.18 L100.46,283.67 L100.73,283.15 L100.99,282.64 L101.25,282.13 L101.51,281.62 L101.78,281.11 L102.04,280.60 L102.30,280.09 L102.56,279.58 L102.83,279.07 L103.09,278.56 L103.35,278.05 L103.62,277.54 L103.88,277.03 L104.14,276.52 L104.41,276.01 L104.67,275.50 L104.94,274.99 L105.20,274.48 L105.46,273.97 L105.73,273.46 L105.99,272.96 L106.26,272.45 L106.52,271.94 L106.79,271.43 L107.05,270.92 L107.32,270.41 L107.58,269.91 L107.85,269.40 L108.11,268.89 L108.38,268.38 L108.64,267.88 L108.91,267.37 L109.18,266.86 L109.44,266.36 L109.71,265.85 L109.97,265.34 L110.24,264.84 L110.51,264.33 L110.77,263.83 L111.04,263.32 L111.31,262.82 L111.57,262.31 L111.84,261.80 L112.11,261.30 L112.37,260.79 L112.64,260.29 L112.91,259.79 L113.18,259.28 L113.44,258.78 L113.71,258.27 L113.98,257.77 L114.25,257.26 L114.52,256.76 L114.79,256.26 L115.05,255.75 L115.32,255.25 L115.59,254.75 L115.86,254.24 L116.13,253.74 L116.40,253.24 L116.67,252.74 L116.94,252.23 L117.21,251.73 L117.48,251.23 L117.75,250.73 L118.02,250.23 L118.29,249.72 L118.56,249.22 L118.83,248.72 L119.10,248.22 L119.37,247.72 L119.64,247.22 L119.91,246.72 L120.18,246.22 L120.46,245.72 L120.73,245.22 L121.00,244.72 L121.27,244.22 L121.54,243.72 L121.81,243.22 L122.09,242.72 L122.36,242.22 L122.63,241.72 L122.90,241.22 L123.18,240.72 L123.45,240.22 L123.72,239.72 L124.00,239.23 L124.27,238.73 L124.54,238.23 L124.82,237.73 L125.09,237.23 L125.37,236.74 L125.64,236.24 L125.91,235.74 L126.19,235.24 L126.46,234.75 L126.74,234.25 L127.01,233.75 L127.29,233.26 L127.56,232.76 L127.84,232.26 L128.11,231.77 L128.39,231.27 L128.67,230.78 L128.94,230.28 L129.22,229.79 L129.49,229.29 L129.77,228.79 L130.05,228.30 L130.32,227.80 L130.60,227.31 L130.88,226.82 L131.16,226.32 L131.43,225.83 L131.71,225.33 L131.99,224.84 L132.27,224.35 L132.55,223.85 L132.82,223.36 L133.10,222.87 L133.38,222.37 L133.66,221.88 L133.94,221.39 L134.22,220.89 L134.50,220.40 L134.78,219.91 L135.06,219.42 L135.34,218.92 L135.62,218.43 L135.90,217.94 L136.18,217.45 L136.46,216.96 L136.74,216.47 L137.02,215.98 L137.30,215.48 L137.58,214.99 L137.87,214.50 L138.15,214.01 L138.43,213.52 L138.71,213.03 L138.99,212.54 L139.28,212.05 L139.56,211.56 L139.84,211.07 L140.12,210.58 L140.41,210.09 L140.69,209.61 L140.97,209.12 L141.26,208.63 L141.54,208.14 L141.83,207.65 L142.11,207.16 L142.40,206.68 L142.68,206.19 L142.97,205.70 L143.25,205.21 L143.54,204.72 L143.82,204.24 L144.11,203.75 L144.39,203.26 L144.68,202.78 L144.96,202.29 L145.25,201.80 L145.54,201.32 L145.82,200.83 L146.11,200.34 L146.40,199.86 L146.69,199.37 L146.97,198.89 L147.26,198.40 L147.55,197.92 L147.84,197.43 L148.13,196.95 L148.41,196.46 L148.70,195.98 L148.99,195.49 L149.28,195.01 L149.57,194.52 L149.86,194.04 L150.15,193.56 L150.44,193.07 L150.73,192.59 L151.02,192.11 L151.31,191.62 L151.60,191.14 L151.89,190.66 L152.19,190.18 L152.48,189.69 L152.77,189.21 L153.06,188.73 L153.35,188.25 L153.64,187.76 L153.94,187.28 L154.23,186.80 L154.52,186.32 L154.82,185.84 L155.11,185.36 L155.40,184.88 L155.70,184.40 L155.99,183.92 L156.28,183.44 L156.58,182.96 L156.87,182.48 L157.17,182.00 L157.46,181.52 L157.76,181.04 L158.05,180.56 L158.35,180.08 L158.65,179.60 L158.94,179.12 L159.24,178.64 L159.54,178.16 L159.83,177.68 L160.13,177.21 L160.43,176.73 L160.72,176.25 L161.02,175.77 L161.32,175.29 L161.62,174.82 L161.92,174.34 L162.22,173.86 L162.51,173.39 L162.81,172.91 L163.11,172.43 L163.41,171.96 L163.71,171.48 L164.01,171.00 L164.31,170.53 L164.61,170.05 L164.91,169.58 L165.22,169.10 L165.52,168.62 L165.82,168.15 L166.12,167.67 L166.42,167.20 L166.72,166.73 L167.03,166.25 L167.33,165.78 L167.63,165.30 L167.93,164.83 L168.24,164.35 L168.54,163.88 L168.85,163.41 L169.15,162.93 L169.45,162.46 L169.76,161.99 L170.06,161.52 L170.37,161.04 L170.67,160.57 L170.98,160.10 L171.28,159.63 L171.59,159.15 L171.90,158.68 L172.20,158.21 L172.51,157.74 L172.82,157.27 L173.12,156.80 L173.43,156.33 L173.74,155.85 L174.05,155.38 L174.36,154.91 L174.66,154.44 L174.97,153.97 L175.28,153.50 L175.59,153.03 L175.90,152.56 L176.21,152.09 L176.52,151.62 L176.83,151.16 L177.14,150.69 L177.45,150.22 L177.76,149.75 L178.07,149.28 L178.39,148.81 L178.70,148.34 L179.01,147.88 L179.32,147.41 L179.63,146.94 L179.95,146.47 L180.26,146.01 L180.57,145.54 L180.89,145.07 L181.20,144.60 L181.51,144.14 L181.83,143.67 L182.14,143.21 L182.46,142.74 L182.77,142.27 L183.09,141.81 L183.41,141.34 L183.72,140.88 L184.04,140.41 L184.35,139.95 L184.67,139.48 L184.99,139.02 L185.31,138.55 L185.62,138.09 L185.94,137.62 L186.26,137.16 L186.58,136.70 L186.90,136.23 L187.21,135.77 L187.53,135.30 L187.85,134.84 L188.17,134.38 L188.49,133.92 L188.81,133.45 L189.13,132.99 L189.46,132.53 L189.78,132.07 L190.10,131.60 L190.42,131.14 L190.74,130.68 L191.06,130.22 L191.39,129.76 L191.71,129.30 L192.03,128.83 L192.36,128.37 L192.68,127.91 L193.00,127.45 L193.33,126.99 L193.65,126.53 L193.98,126.07 L194.30,125.61 L194.63,125.15 L194.95,124.69 L195.28,124.23 L195.61,123.77 L195.93,123.32 L196.26,122.86 L196.59,122.40 L196.91,121.94 L197.24,121.48 L197.57,121.02 L197.90,120.57 L198.23,120.11 L198.56,119.65 L198.89,119.20 L199.22,118.74 L199.55,118.28 L199.88,117.83 L200.21,117.37 L200.54,116.91 L200.87,116.46 L201.20,116.00 L201.53,115.55 L201.87,115.09 L202.20,114.64 L202.53,114.18 L202.87,113.73 L203.20,113.28 L203.54,112.82 L203.87,112.37 L204.21,111.92 L204.54,111.47 L204.88,111.01 L205.21,110.56 L205.55,110.11 L205.89,109.66 L206.23,109.21 L206.57,108.76 L206.90,108.31 L207.24,107.86 L207.58,107.41 L207.92,106.96 L208.26,106.51 L208.60,106.06 L208.94,105.62 L209.29,105.17 L209.63,104.72 L209.97,104.27 L210.31,103.83 L210.66,103.38 L211.00,102.93 L211.35,102.49 L211.69,102.04 L212.04,101.60 L212.38,101.16 L212.73,100.71 L213.07,100.27 L213.42,99.83 L213.77,99.38 L214.12,98.94 L214.47,98.50 L214.82,98.06 L215.17,97.62 L215.52,97.18 L215.87,96.74 L216.22,96.30 L216.57,95.86 L216.92,95.42 L217.28,94.98 L217.63,94.55 L217.98,94.11 L218.34,93.67 L218.69,93.24 L219.05,92.80 L219.40,92.37 L219.76,91.93 L220.12,91.50 L220.48,91.06 L220.84,90.63 L221.19,90.20 L221.55,89.77 L221.91,89.33 L222.27,88.90 L222.64,88.47 L223.00,88.04 L223.36,87.61 L223.72,87.18 L224.09,86.76 L224.45,86.33 L224.82,85.90 L225.18,85.47 L225.55,85.05 L225.91,84.62 L226.28,84.20 L226.65,83.77 L227.02,83.35 L227.39,82.93 L227.76,82.50 L228.13,82.08 L228.50,81.66 L228.87,81.24 L229.24,80.82 L229.62,80.40 L229.99,79.98 L230.36,79.56 L230.74,79.15 L231.11,78.73 L231.49,78.31 L231.87,77.90 L232.25,77.48 L232.62,77.07 L233.00,76.65 L233.38,76.24 L233.76,75.83 L234.14,75.42 L234.53,75.00 L234.91,74.59 L235.29,74.18 L235.68,73.77 L236.06,73.37 L236.45,72.96 L236.83,72.55 L237.22,72.15 L237.61,71.74 L237.99,71.33 L238.38,70.93 L238.77,70.53 L239.16,70.12 L239.55,69.72 L239.95,69.32 L240.34,68.92 L240.73,68.52 L241.13,68.12 L241.52,67.72 L241.92,67.33 L242.31,66.93 L242.71,66.53 L243.11,66.14 L243.51,65.74 L243.91,65.35 L244.31,64.96 L244.71,64.56 L245.11,64.17 L245.51,63.78 L245.92,63.39 L246.32,63.00 L246.73,62.62 L247.13,62.23 L247.54,61.84 L247.95,61.46 L248.36,61.07 L248.77,60.69 L249.18,60.30 L249.59,59.92 L250.00,59.54 L250.41,59.16 L250.82,58.78 L251.24,58.40 L251.65,58.02 L252.07,57.64 L252.49,57.27 L252.90,56.89 L253.32,56.52 L253.74,56.14 L254.16,55.77 L254.58,55.40 L255.01,55.03 L255.43,54.66 L255.85,54.29 L256.28,53.92 L256.70,53.55 L257.13,53.19 L257.56,52.82 L257.99,52.46 L258.41,52.09 L258.85,51.73 L259.28,51.37 L259.71,51.01 L260.14,50.65 L260.57,50.29 L261.01,49.93 L261.45,49.57 L261.88,49.21 L262.32,48.86 L262.76,48.50 L263.20,48.15 L263.64,47.80 L264.08,47.45 L264.52,47.10 L264.97,46.75 L265.41,46.40 L265.85,46.05 L266.30,45.71 L266.75,45.36 L267.20,45.02 L267.65,44.67 L268.10,44.33 L268.55,43.99 L269.00,43.65 L269.45,43.31 L269.91,42.97 L270.36,42.63 L270.82,42.30 L271.27,41.96 L271.73,41.63 L272.19,41.30 L272.65,40.96 L273.11,40.63 L273.58,40.30 L274.04,39.98 L274.50,39.65 L274.97,39.32 L275.44,39.00 L275.90,38.67 L276.37,38.35 L276.84,38.03 L277.31,37.71 L277.78,37.39 L278.26,37.07 L278.73,36.75 L279.20,36.43 L279.68,36.12 L280.16,35.80 L280.64,35.49 L281.12,35.18 L281.60,34.87 L282.08,34.56 L282.56,34.25 L283.04,33.94 L283.53,33.64 L284.01,33.33 L284.50,33.03 L284.99,32.73 L285.48,32.43 L285.97,32.13 L286.46,31.83 L286.95,31.53 L287.44,31.24 L287.94,30.95 L288.43,30.65 L288.93,30.36 L289.42,30.08 L289.92,29.79 L290.42,29.50 L290.92,29.22 L291.42,28.94 L291.92,28.65 L292.42,28.38 L292.93,28.10 L293.43,27.82 L293.94,27.55 L294.44,27.28 L294.95,27.01 L295.46,26.74 L295.97,26.47 L296.48,26.21 L296.99,25.94 L297.50,25.68 L298.01,25.42 L298.53,25.17 L299.04,24.91 L299.56,24.66 L300.07,24.41 L300.59,24.16 L301.11,23.91 L301.63,23.67 L302.15,23.42 L302.67,23.18 L303.19,22.94 L303.71,22.71 L304.23,22.47 L304.76,22.24 L305.28,22.01 L305.81,21.79 L306.33,21.56 L306.86,21.34 L307.39,21.12 L307.92,20.90 L308.44,20.69 L308.97,20.47 L309.51,20.26 L310.04,20.05 L310.57,19.85 L311.10,19.65 L311.64,19.45 L312.17,19.25 L312.70,19.05 L313.24,18.86 L313.78,18.67 L314.31,18.48 L314.85,18.30 L315.39,18.12 L315.93,17.94 L316.47,17.76 L317.01,17.59 L317.55,17.42 L318.09,17.25 L318.63,17.09 L319.18,16.92 L319.72,16.76 L320.27,16.61 L320.81,16.46 L321.36,16.31 L321.90,16.16 L322.45,16.01 L323.00,15.87 L323.54,15.73 L324.09,15.60 L324.64,15.47 L325.19,15.34 L325.74,15.21 L326.29,15.09 L326.84,14.97 L327.40,14.86 L327.95,14.74 L328.50,14.63 L329.06,14.53 L329.61,14.43 L330.16,14.33 L330.72,14.23 L331.28,14.14 L331.83,14.05 L332.39,13.96 L332.95,13.88 L333.50,13.80 L334.06,13.73 L334.62,13.66 L335.18,13.59 L335.74,13.52 L336.30,13.46 L336.86,13.41 L337.42,13.35 L337.98,13.30 L338.54,13.26 L339.10,13.21 L339.67,13.18 L340.23,13.14 L340.79,13.11 L341.35,13.08 L341.92,13.06 L342.48,13.03 L343.04,13.02 L343.61,13.00 L344.17,12.99 L344.74,12.98 L345.30,12.98 L345.86,12.98 L346.43,12.99 L346.99,12.99 L347.56,13.00 L348.12,13.02 L348.68,13.03 L349.25,13.06 L349.81,13.08 L350.37,13.11 L350.94,13.14 L351.50,13.17 L352.06,13.21 L352.62,13.25 L353.19,13.30 L353.75,13.35 L354.31,13.40 L354.87,13.45 L355.43,13.51 L355.99,13.57 L356.55,13.64 L357.11,13.71 L357.67,13.78 L358.23,13.86 L358.78,13.93 L359.34,14.02 L359.90,14.10 L360.45,14.19 L361.01,14.28 L361.56,14.38 L362.12,14.47 L362.67,14.58 L363.22,14.68 L363.77,14.79 L364.32,14.90 L364.87,15.02 L365.42,15.13 L365.97,15.25 L366.51,15.38 L367.06,15.51 L367.60,15.64 L368.15,15.77 L368.69,15.91 L369.23,16.05 L369.77,16.19 L370.31,16.34 L370.85,16.49 L371.39,16.64 L371.92,16.79 L372.46,16.95 L372.99,17.12 L373.52,17.28 L374.06,17.45 L374.59,17.62 L375.11,17.79 L375.64,17.97 L376.17,18.15 L376.69,18.34 L377.21,18.52 L377.73,18.71 L378.25,18.90 L378.77,19.10 L379.29,19.30 L379.80,19.50 L380.32,19.70 L380.83,19.91 L381.34,20.12 L381.85,20.34 L382.35,20.55 L382.86,20.77 L383.36,20.99 L383.86,21.22 L384.36,21.45 L384.86,21.68 L385.36,21.91 L385.85,22.15 L386.35,22.39 L386.84,22.63 L387.33,22.87 L387.82,23.12 L388.31,23.37 L388.79,23.63 L389.28,23.88 L389.76,24.14 L390.24,24.40 L390.72,24.66 L391.20,24.93 L391.68,25.20 L392.15,25.47 L392.63,25.75 L393.10,26.02 L393.57,26.30 L394.04,26.58 L394.51,26.87 L394.97,27.16 L395.44,27.45 L395.90,27.74 L396.36,28.03 L396.82,28.33 L397.28,28.63 L397.74,28.93 L398.19,29.23 L398.65,29.54 L399.10,29.85 L399.55,30.16 L400.00,30.48 L400.45,30.79 L400.90,31.11 L401.34,31.43 L401.79,31.75 L402.23,32.08 L402.67,32.41 L403.11,32.74 L403.55,33.07 L403.99,33.40 L404.42,33.74 L404.86,34.08 L405.29,34.42 L405.72,34.76 L406.15,35.10 L406.58,35.45 L407.01,35.80 L407.43,36.15 L407.86,36.51 L408.28,36.86 L408.70,37.22 L409.12,37.58 L409.54,37.94 L409.96,38.30 L410.38,38.67 L410.79,39.03 L411.21,39.40 L411.62,39.77 L412.03,40.15 L412.44,40.52 L412.85,40.90 L413.26,41.28 L413.67,41.66 L414.07,42.04 L414.47,42.42 L414.88,42.81 L415.28,43.20 L415.68,43.59 L416.08,43.98 L416.47,44.37 L416.87,44.76 L417.26,45.16 L417.66,45.56 L418.05,45.96 L418.44,46.36 L418.83,46.76 L419.22,47.17 L419.61,47.57 L419.99,47.98 L420.38,48.39 L420.76,48.80 L421.15,49.21 L421.53,49.62 L421.91,50.04 L422.29,50.46 L422.67,50.87 L423.04,51.29 L423.42,51.72 L423.79,52.14 L424.17,52.56 L424.54,52.99 L424.91,53.41 L425.28,53.84 L425.65,54.27 L426.02,54.70 L426.38,55.13 L426.75,55.57 L427.11,56.00 L427.48,56.44 L427.84,56.87 L428.20,57.31 L428.56,57.75 L428.92,58.19 L429.28,58.64 L429.63,59.08 L429.99,59.52 L430.34,59.97 L430.70,60.41 L431.05,60.86 L431.40,61.31 L431.75,61.76 L432.10,62.21 L432.45,62.66 L432.79,63.12 L433.14,63.57 L433.49,64.02 L433.83,64.48 L434.17,64.94 L434.52,65.39 L434.86,65.85 L435.20,66.31 L435.54,66.77 L435.87,67.24 L436.21,67.70 L436.55,68.16 L436.88,68.62 L437.22,69.09 L437.55,69.55 L437.88,70.02 L438.21,70.49 L438.54,70.96 L438.87,71.42 L439.20,71.89 L439.53,72.36 L439.86,72.83 L440.18,73.31 L440.51,73.78 L440.83,74.25 L441.15,74.72 L441.47,75.20 L441.80,75.67 L442.12,76.15 L442.44,76.62 L442.75,77.10 L443.07,77.58 L443.39,78.05 L443.70,78.53 L444.02,79.01 L444.33,79.49 L444.65,79.97 L444.96,80.45 L445.27,80.93 L445.58,81.41 L445.89,81.89 L446.20,82.37 L446.51,82.85 L446.82,83.33 L447.12,83.82 L447.43,84.30 L447.73,84.78 L448.04,85.27 L448.34,85.75 L448.64,86.24 L448.94,86.72 L449.24,87.21 L449.54,87.69 L449.84,88.18 L450.14,88.67 L450.44,89.15 L450.73,89.64 L451.03,90.13 L451.33,90.62 L451.62,91.11 L451.91,91.59 L452.20,92.08 L452.50,92.57 L452.79,93.07 L453.08,93.56 L453.37,94.05 L453.65,94.54 L453.94,95.03 L454.23,95.52 L454.51,96.02 L454.80,96.51 L455.08,97.00 L455.37,97.50 L455.65,97.99 L455.93,98.49 L456.21,98.98 L456.49,99.48 L456.77,99.97 L457.05,100.47 L457.33,100.97 L457.61,101.46 L457.88,101.96 L458.16,102.46 L458.43,102.96 L458.71,103.46 L458.98,103.96 L459.25,104.46 L459.52,104.96 L459.80,105.46 L460.07,105.96 L460.33,106.46 L460.60,106.96 L460.87,107.46 L461.14,107.96 L461.40,108.46 L461.67,108.97 L461.93,109.47 L462.20,109.97 L462.46,110.48 L462.72,110.98 L462.99,111.49 L463.25,111.99 L463.51,112.50 L463.77,113.00 L464.02,113.51 L464.28,114.02 L464.54,114.52 L464.79,115.03 L465.05,115.54 L465.30,116.05 L465.56,116.56 L465.81,117.06 L466.06,117.57 L466.32,118.08 L466.57,118.59 L466.82,119.10 L467.07,119.61 L467.32,120.12 L467.56,120.63 L467.81,121.15 L468.06,121.66 L468.30,122.17 L468.55,122.68 L468.79,123.20 L469.04,123.71 L469.28,124.22 L469.52,124.74 L469.76,125.25 L470.00,125.77 L470.24,126.28 L470.48,126.80 L470.72,127.31 L470.96,127.83 L471.20,128.34 L471.43,128.86 L471.67,129.38 L471.90,129.90 L472.14,130.41 L472.37,130.93 L472.60,131.45 L472.83,131.97 L473.07,132.49 L473.30,133.01 L473.53,133.53 L473.76,134.05 L473.98,134.57 L474.21,135.09 L474.44,135.61 L474.66,136.13 L474.89,136.65 L475.12,137.17 L475.34,137.69 L475.56,138.22 L475.79,138.74 L476.01,139.26 L476.23,139.79 L476.45,140.31 L476.67,140.83 L476.89,141.36 L477.11,141.88 L477.33,142.41 L477.54,142.93 L477.76,143.46 L477.98,143.98 L478.19,144.51 L478.41,145.04 L478.62,145.56 L478.83,146.09 L479.05,146.62 L479.26,147.15 L479.47,147.67 L479.68,148.20 L479.89,148.73 L480.10,149.26 L480.31,149.79 L480.52,150.32 L480.72,150.85 L480.93,151.38 L481.14,151.91 L481.34,152.44 L481.54,152.97 L481.75,153.50 L481.95,154.03 L482.15,154.57 L482.36,155.10 L482.56,155.63 L482.76,156.16 L482.96,156.70 L483.16,157.23 L483.36,157.76 L483.55,158.30 L483.75,158.83 L483.95,159.36 L484.14,159.90 L484.34,160.43 L484.54,160.97 L484.73,161.50 L484.92,162.04 L485.12,162.58 L485.31,163.11 L485.50,163.65 L485.69,164.19 L485.88,164.72 L486.07,165.26 L486.26,165.80 L486.45,166.34 L486.64,166.87 L486.82,167.41 L487.01,167.95 L487.20,168.49 L487.38,169.03 L487.57,169.57 L487.75,170.11 L487.93,170.65 L488.12,171.19 L488.30,171.73 L488.48,172.27 L488.66,172.81 L488.84,173.35 L489.02,173.89 L489.20,174.43 L489.38,174.98 L489.56,175.52 L489.74,176.06 L489.91,176.60 L490.09,177.15 L490.27,177.69 L490.44,178.23 L490.61,178.78 L490.79,179.32 L490.96,179.86 L491.13,180.41 L491.31,180.95 L491.48,181.50 L491.65,182.04 L491.82,182.59 L491.99,183.13 L492.16,183.68 L492.33,184.22 L492.50,184.77 L492.66,185.32 L492.83,185.86 L493.00,186.41 L493.16,186.96 L493.33,187.50 L493.49,188.05 L493.65,188.60 L493.82,189.15 L493.98,189.70 L494.14,190.24 L494.31,190.79 L494.47,191.34 L494.63,191.89 L494.79,192.44 L494.95,192.99 L495.11,193.54 L495.26,194.09 L495.42,194.64 L495.58,195.19 L495.74,195.74 L495.89,196.29 L496.05,196.84 L496.20,197.39 L496.36,197.94 L496.51,198.50 L496.66,199.05 L496.82,199.60 L496.97,200.15 L497.12,200.70 L497.27,201.26 L497.42,201.81 L497.57,202.36 L497.72,202.92 L497.87,203.47 L498.02,204.02 L498.17,204.58 L498.31,205.13 L498.46,205.69 L498.61,206.24 L498.75,206.79 L498.90,207.35 L499.04,207.90 L499.19,208.46 L499.33,209.01 L499.48,209.57 L499.62,210.13 L499.76,210.68 L499.90,211.24 L500.04,211.79 L500.18,212.35 L500.32,212.91 L500.46,213.46 L500.60,214.02 L500.74,214.58 L500.88,215.13 L501.02,215.69 L501.15,216.25 L501.29,216.81 L501.43,217.36 L501.56,217.92 L501.70,218.48 L501.83,219.04 L501.97,219.60 L502.10,220.16 L502.23,220.72 L502.36,221.28 L502.50,221.83 L502.63,222.39 L502.76,222.95 L502.89,223.51 L503.02,224.07 L503.15,224.63 L503.28,225.19 L503.41,225.75 L503.54,226.31 L503.66,226.87 L503.79,227.44 L503.92,228.00 L504.04,228.56 L504.17,229.12 L504.29,229.68 L504.42,230.24 L504.54,230.80 L504.67,231.37 L504.79,231.93 L504.91,232.49 L505.04,233.05 L505.16,233.61 L505.28,234.18 L505.40,234.74 L505.52,235.30 L505.64,235.87 L505.76,236.43 L505.88,236.99 L506.00,237.56 L506.12,238.12 L506.24,238.68 L506.35,239.25 L506.47,239.81 L506.59,240.37 L506.70,240.94 L506.82,241.50 L506.94,242.07 L507.05,242.63 L507.16,243.20 L507.28,243.76 L507.39,244.33 L507.50,244.89 L507.62,245.46 L507.73,246.02 L507.84,246.59 L507.95,247.15 L508.06,247.72 L508.17,248.28 L508.28,248.85 L508.39,249.42 L508.50,249.98 L508.61,250.55 L508.72,251.12 L508.83,251.68 L508.93,252.25 L509.04,252.82 L509.15,253.38 L509.25,253.95 L509.36,254.52 L509.47,255.08 L509.57,255.65 L509.68,256.22 L509.78,256.78 L509.88,257.35 L509.99,257.92 L510.09,258.49 L510.19,259.06 L510.29,259.62 L510.40,260.19 L510.50,260.76 L510.60,261.33 L510.70,261.90 L510.80,262.46 L510.90,263.03 L511.00,263.60 L511.10,264.17 L511.20,264.74 L511.29,265.31 L511.39,265.88 L511.49,266.45 L511.59,267.01 L511.68,267.58 L511.78,268.15 L511.87,268.72 L511.97,269.29 L512.07,269.86 L512.16,270.43 L512.25,271.00 L512.35,271.57 L512.44,272.14 L512.54,272.71 L512.63,273.28 L512.72,273.85 L512.81,274.42 L512.90,274.99 L513.00,275.56 L513.09,276.13 L513.18,276.70 L513.27,277.27 L513.36,277.84 L513.45,278.41 L513.54,278.98 L513.63,279.55 L513.71,280.12 L513.80,280.69 L513.89,281.26 L513.98,281.84 L514.06,282.41 L514.15,282.98 L514.24,283.55 L514.32,284.12 L514.41,284.69 L514.49,285.26 L514.58,285.83 L514.66,286.40 L514.75,286.98 L514.83,287.55 L514.92,288.12 L515.00,288.69 L515.08,289.26 L515.16,289.83 L515.25,290.40 L515.33,290.98 L515.41,291.55 L515.49,292.12 L515.57,292.69 L515.65,293.26 L515.73,293.83 L515.81,294.41 L515.89,294.98 L515.97,295.55 L516.05,296.12 L516.13,296.69 L516.21,297.27 L516.29,297.84 L516.37,298.41 L516.44,298.98 L516.52,299.55 L516.60,300.13 L516.67,300.70 L516.75,301.27 L516.83,301.84 L516.90,302.41 L516.98,302.99 L517.05,303.56 L517.13,304.13 L517.20,304.70 L517.28,305.28 L517.35,305.85 L517.42,306.42 L517.50,306.99 L517.57,307.57 L517.64,308.14 L517.71,308.71 L517.79,309.28 L517.86,309.86 L517.93,310.43 L518.00,311.00 L518.07,311.57 L518.14,312.14 L518.21,312.72 L518.28,313.29 L518.35,313.86 L518.42,314.43 L518.49,315.01 L518.56,315.58 L518.63,316.15 L518.70,316.72 L518.77,317.30 L518.83,317.87 L518.90,318.44 L518.97,319.01 L519.04,319.59 L519.10,320.16 L519.17,320.73 L519.24,321.30 L519.30,321.88 L519.37,322.45 L519.43,323.02 L519.50,323.59 L519.56,324.17 L519.63,324.74 L519.69,325.31 L519.76,325.88 L519.82,326.45 L519.89,327.03 L519.95,327.60 L520.01,328.17 L520.08,328.74 L520.14,329.31 L520.20,329.89 L520.26,330.46 L520.33,331.03 L520.39,331.60 L520.45,332.17 L520.51,332.75 L520.57,333.32 L520.63,333.89 L520.70,334.46 L520.76,335.03 L520.82,335.61 L520.88,336.18 L520.94,336.75 L521.00,337.32 L521.06,337.89 L521.11,338.46 L521.17,339.04 L521.23,339.61 L521.29,340.18 L521.35,340.75 L521.41,341.32 L521.47,341.89 L521.52,342.46 L521.58,343.03 L521.64,343.61 L521.69,344.18 L521.75,344.75 L521.81,345.32 L521.86,345.89 L521.92,346.46 L521.98,347.03 L522.03,347.60 L522.09,348.17 L522.14,348.74 L522.20,349.31 L522.25,349.88 L522.31,350.45 L522.36,351.03 L522.42,351.60 L522.47,352.17 L522.53,352.74 L522.58,353.31 L522.63,353.88 L522.69,354.45 L522.74,355.02 L522.80,355.59 L522.85,356.16 L522.90,356.73 L522.95,357.29 L523.01,357.86 L523.06,358.43 L523.11,359.00 L523.16,359.57 L523.21,360.14 L523.27,360.71 L523.32,361.28 L523.37,361.85 L523.42,362.42 L523.47,362.99 L523.52,363.56 L523.57,364.12 L523.62,364.69 L523.67,365.26 L523.72,365.83 L523.77,366.40 L523.82,366.97 L523.87,367.53 L523.92,368.10 L523.97,368.67 L524.02,369.24 L524.07,369.80 L524.12,370.37 L524.17,370.94 L524.22,371.51 L524.27,372.07 L524.31,372.64 L524.36,373.21 L524.41,373.78 L524.46,374.34 L524.51,374.91 L524.56,375.48 L524.60,376.04 L524.65,376.61 L524.70,377.18 L524.74,377.74 L524.79,378.31" fill="none" stroke="#004f00" stroke-width="0.7" stroke-linejoin="round"/>
<g fill="#004f00"><use href="#trs" x="84.89" y="315.02"/><use href="#trs" x="85.47" y="313.86"/><use href="#trs" x="86.04" y="312.69"/><use href="#trs" x="86.62" y="311.53"/><use href="#trs" x="87.20" y="310.36"/><use href="#trs" x="87.78" y="309.20"/><use href="#trs" x="88.36" y="308.04"/><use href="#trs" x="88.94" y="306.87"/><use href="#trs" x="89.52" y="305.71"/><use href="#trs" x="90.10" y="304.55"/><use href="#trs" x="90.68" y="303.38"/><use href="#trs" x="91.26" y="302.22"/><use href="#trs" x="91.85" y="301.06"/><use href="#trs" x="92.43" y="299.90"/><use href="#trs" x="93.01" y="298.74"/><use href="#trs" x="93.60" y="297.58"/><use href="#trs" x="94.18" y="296.41"/><use href="#trs" x="94.77" y="295.25"/><use href="#trs" x="95.36" y="294.09"/><use href="#trs" x="95.94" y="292.93"/><use href="#trs" x="96.53" y="291.77"/><use href="#trs" x="97.12" y="290.62"/><use href="#trs" x="97.71" y="289.46"/><use href="#trs" x="98.30" y="288.30"/><use href="#trs" x="98.89" y="287.14"/><use href="#trs" x="99.48" y="285.98"/><use href="#trs" x="100.07" y="284.83"/><use href="#trs" x="100.67" y="283.67"/><use href="#trs" x="101.26" y="282.51"/><use href="#trs" x="101.85" y="281.36"/><use href="#trs" x="102.45" y="280.20"/><use href="#trs" x="103.05" y="279.04"/><use href="#trs" x="103.64" y="277.89"/><use href="#trs" x="104.24" y="276.74"/><use href="#trs" x="104.84" y="275.58"/><use href="#trs" x="105.44" y="274.43"/><use href="#trs" x="106.04" y="273.27"/><use href="#trs" x="106.64" y="272.12"/><use href="#trs" x="107.24" y="270.97"/><use href="#trs" x="107.84" y="269.82"/><use href="#trs" x="108.44" y="268.66"/><use href="#trs" x="109.05" y="267.51"/><use href="#trs" x="109.65" y="266.36"/><use href="#trs" x="110.25" y="265.21"/><use href="#trs" x="110.86" y="264.06"/><use href="#trs" x="111.47" y="262.91"/><use href="#trs" x="112.07" y="261.76"/><use href="#trs" x="112.68" y="260.61"/><use href="#trs" x="113.29" y="259.46"/><use href="#trs" x="113.90" y="258.32"/><use href="#trs" x="114.51" y="257.17"/><use href="#trs" x="115.13" y="256.02"/><use href="#trs" x="115.74" y="254.87"/><use href="#trs" x="116.35" y="253.73"/><use href="#trs" x="116.97" y="252.58"/><use href="#trs" x="117.58" y="251.44"/><use href="#trs" x="118.20" y="250.29"/><use href="#trs" x="118.81" y="249.15"/><use href="#trs" x="119.43" y="248.01"/><use href="#trs" x="120.05" y="246.86"/><use href="#trs" x="120.67" y="245.72"/><use href="#trs" x="121.30" y="244.56"/><use href="#trs" x="121.94" y="243.38"/><use href="#trs" x="122.59" y="242.19"/><use href="#trs" x="123.25" y="240.99"/><use href="#trs" x="123.92" y="239.77"/><use href="#trs" x="124.60" y="238.53"/><use href="#trs" x="125.29" y="237.27"/><use href="#trs" x="125.99" y="236.00"/><use href="#trs" x="126.70" y="234.71"/><use href="#trs" x="127.43" y="233.41"/><use href="#trs" x="128.16" y="232.08"/><use href="#trs" x="128.91" y="230.74"/><use href="#trs" x="129.67" y="229.38"/><use href="#trs" x="130.44" y="228.01"/><use href="#trs" x="131.22" y="226.61"/><use href="#trs" x="132.01" y="225.20"/><use href="#trs" x="132.82" y="223.76"/><use href="#trs" x="133.64" y="222.31"/><use href="#trs" x="134.48" y="220.84"/><use href="#trs" x="135.33" y="219.35"/><use href="#trs" x="136.19" y="217.83"/><use href="#trs" x="137.06" y="216.30"/><use href="#trs" x="137.95" y="214.75"/><use href="#trs" x="138.86" y="213.17"/><use href="#trs" x="139.78" y="211.58"/><use href="#trs" x="140.72" y="209.96"/><use href="#trs" x="141.67" y="208.32"/><use href="#trs" x="142.64" y="206.66"/><use href="#trs" x="143.62" y="204.98"/><use href="#trs" x="144.62" y="203.27"/><use href="#trs" x="145.64" y="201.54"/><use href="#trs" x="146.68" y="199.79"/><use href="#trs" x="147.73" y="198.01"/><use href="#trs" x="148.81" y="196.21"/><use href="#trs" x="149.90" y="194.38"/><use href="#trs" x="151.01" y="192.53"/><use href="#trs" x="152.14" y="190.65"/><use href="#trs" x="153.29" y="188.75"/><use href="#trs" x="154.46" y="186.82"/><use href="#trs" x="155.66" y="184.86"/><use href="#trs" x="156.87" y="182.88"/><use href="#trs" x="158.11" y="180.87"/><use href="#trs" x="159.37" y="178.83"/><use href="#trs" x="160.65" y="176.77"/><use href="#trs" x="161.96" y="174.67"/><use href="#trs" x="163.29" y="172.55"/><use href="#trs" x="164.65" y="170.40"/><use href="#trs" x="166.03" y="168.22"/><use href="#trs" x="167.44" y="166.00"/><use href="#trs" x="168.88" y="163.76"/><use href="#trs" x="170.34" y="161.48"/><use href="#trs" x="171.83" y="159.18"/><use href="#trs" x="173.36" y="156.84"/><use href="#trs" x="174.91" y="154.47"/><use href="#trs" x="176.49" y="152.07"/><use href="#trs" x="178.11" y="149.63"/><use href="#trs" x="179.76" y="147.16"/><use href="#trs" x="181.44" y="144.65"/><use href="#trs" x="183.16" y="142.11"/><use href="#trs" x="184.91" y="139.53"/><use href="#trs" x="186.70" y="136.92"/><use href="#trs" x="188.52" y="134.27"/><use href="#trs" x="190.39" y="131.59"/><use href="#trs" x="192.29" y="128.86"/><use href="#trs" x="194.24" y="126.10"/><use href="#trs" x="196.23" y="123.30"/><use href="#trs" x="198.26" y="120.46"/><use href="#trs" x="200.34" y="117.59"/><use href="#trs" x="202.46" y="114.68"/><use href="#trs" x="204.60" y="111.78"/><use href="#trs" x="206.76" y="108.90"/><use href="#trs" x="208.93" y="106.03"/><use href="#trs" x="211.12" y="103.18"/><use href="#trs" x="213.34" y="100.34"/><use href="#trs" x="215.57" y="97.51"/><use href="#trs" x="217.82" y="94.70"/><use href="#trs" x="220.10" y="91.92"/><use href="#trs" x="222.40" y="89.15"/><use href="#trs" x="224.73" y="86.40"/><use href="#trs" x="227.08" y="83.68"/><use href="#trs" x="229.46" y="80.97"/><use href="#trs" x="231.87" y="78.30"/><use href="#trs" x="234.30" y="75.64"/><use href="#trs" x="236.77" y="73.02"/><use href="#trs" x="239.26" y="70.42"/><use href="#trs" x="241.79" y="67.86"/><use href="#trs" x="244.34" y="65.32"/><use href="#trs" x="246.93" y="62.82"/><use href="#trs" x="249.55" y="60.35"/><use href="#trs" x="252.21" y="57.92"/><use href="#trs" x="254.89" y="55.53"/><use href="#trs" x="257.62" y="53.17"/><use href="#trs" x="260.37" y="50.85"/><use href="#trs" x="263.16" y="48.58"/><use href="#trs" x="265.99" y="46.35"/><use href="#trs" x="268.85" y="44.16"/><use href="#trs" x="271.74" y="42.02"/><use href="#trs" x="274.67" y="39.93"/><use href="#trs" x="277.63" y="37.89"/><use href="#trs" x="280.63" y="35.89"/><use href="#trs" x="283.66" y="33.95"/><use href="#trs" x="286.73" y="32.07"/><use href="#trs" x="289.83" y="30.24"/><use href="#trs" x="292.97" y="28.47"/><use href="#trs" x="296.15" y="26.78"/><use href="#trs" x="299.36" y="25.16"/><use href="#trs" x="302.61" y="23.61"/><use href="#trs" x="305.90" y="22.15"/><use href="#trs" x="309.23" y="20.77"/><use href="#trs" x="312.59" y="19.49"/><use href="#trs" x="315.99" y="18.32"/><use href="#trs" x="319.43" y="17.25"/><use href="#trs" x="322.90" y="16.30"/><use href="#trs" x="326.41" y="15.47"/><use href="#trs" x="329.94" y="14.77"/><use href="#trs" x="333.49" y="14.20"/><use href="#trs" x="337.07" y="13.79"/><use href="#trs" x="340.66" y="13.52"/><use href="#trs" x="344.26" y="13.39"/><use href="#trs" x="347.85" y="13.41"/><use href="#trs" x="351.45" y="13.57"/><use href="#trs" x="355.04" y="13.87"/><use href="#trs" x="358.61" y="14.31"/><use href="#trs" x="362.16" y="14.88"/><use href="#trs" x="365.69" y="15.59"/><use href="#trs" x="369.19" y="16.44"/><use href="#trs" x="372.66" y="17.41"/><use href="#trs" x="376.08" y="18.52"/><use href="#trs" x="379.46" y="19.77"/><use href="#trs" x="382.79" y="21.14"/><use href="#trs" x="386.07" y="22.65"/><use href="#trs" x="389.31" y="24.30"/><use href="#trs" x="392.50" y="26.08"/><use href="#trs" x="395.66" y="27.98"/><use href="#trs" x="398.76" y="30.02"/><use href="#trs" x="401.82" y="32.18"/><use href="#trs" x="404.83" y="34.46"/><use href="#trs" x="407.80" y="36.85"/><use href="#trs" x="410.71" y="39.36"/><use href="#trs" x="413.58" y="41.98"/><use href="#trs" x="416.41" y="44.70"/><use href="#trs" x="419.19" y="47.53"/><use href="#trs" x="421.92" y="50.46"/><use href="#trs" x="424.62" y="53.48"/><use href="#trs" x="427.28" y="56.60"/><use href="#trs" x="429.90" y="59.81"/><use href="#trs" x="432.48" y="63.11"/><use href="#trs" x="435.01" y="66.46"/><use href="#trs" x="437.48" y="69.86"/><use href="#trs" x="439.89" y="73.29"/><use href="#trs" x="442.26" y="76.76"/><use href="#trs" x="444.58" y="80.26"/><use href="#trs" x="446.85" y="83.79"/><use href="#trs" x="449.09" y="87.35"/><use href="#trs" x="451.28" y="90.94"/><use href="#trs" x="453.42" y="94.55"/><use href="#trs" x="455.53" y="98.18"/><use href="#trs" x="457.59" y="101.84"/><use href="#trs" x="459.61" y="105.52"/><use href="#trs" x="461.59" y="109.22"/><use href="#trs" x="463.53" y="112.95"/><use href="#trs" x="465.43" y="116.70"/><use href="#trs" x="467.29" y="120.46"/><use href="#trs" x="469.10" y="124.25"/><use href="#trs" x="470.88" y="128.06"/><use href="#trs" x="472.62" y="131.88"/><use href="#trs" x="474.31" y="135.72"/><use href="#trs" x="475.97" y="139.58"/><use href="#trs" x="477.59" y="143.45"/><use href="#trs" x="479.84" y="149.02"/><use href="#trs" x="482.02" y="154.61"/><use href="#trs" x="484.12" y="160.23"/><use href="#trs" x="486.15" y="165.88"/><use href="#trs" x="488.10" y="171.55"/><use href="#trs" x="489.99" y="177.24"/><use href="#trs" x="491.81" y="182.96"/><use href="#trs" x="493.56" y="188.70"/><use href="#trs" x="495.25" y="194.46"/><use href="#trs" x="496.88" y="200.23"/><use href="#trs" x="498.45" y="206.02"/><use href="#trs" x="499.95" y="211.83"/><use href="#trs" x="501.40" y="217.65"/><use href="#trs" x="502.79" y="223.49"/><use href="#trs" x="504.13" y="229.34"/><use href="#trs" x="505.41" y="235.20"/><use href="#trs" x="506.65" y="241.07"/><use href="#trs" x="507.83" y="246.95"/><use href="#trs" x="508.97" y="252.84"/><use href="#trs" x="510.02" y="258.52"/><use href="#trs" x="510.94" y="263.66"/><use href="#trs" x="511.74" y="268.33"/><use href="#trs" x="512.45" y="272.57"/><use href="#trs" x="513.07" y="276.42"/><use href="#trs" x="513.62" y="279.90"/><use href="#trs" x="514.10" y="283.06"/><use href="#trs" x="514.53" y="285.93"/><use href="#trs" x="514.92" y="288.52"/><use href="#trs" x="515.26" y="290.88"/><use href="#trs" x="515.57" y="293.06"/><use href="#trs" x="515.87" y="295.23"/><use href="#trs" x="516.17" y="297.41"/><use href="#trs" x="516.47" y="299.59"/><use href="#trs" x="516.76" y="301.77"/><use href="#trs" x="517.05" y="303.96"/><use href="#trs" x="517.33" y="306.14"/><use href="#trs" x="517.61" y="308.32"/><use href="#trs" x="517.89" y="310.50"/><use href="#trs" x="518.16" y="312.68"/><use href="#trs" x="518.43" y="314.87"/><use href="#trs" x="518.69" y="317.05"/><use href="#trs" x="518.95" y="319.24"/><use href="#trs" x="519.20" y="321.42"/><use href="#trs" x="519.46" y="323.61"/><use href="#trs" x="519.70" y="325.79"/><use href="#trs" x="519.95" y="327.98"/><use href="#trs" x="520.19" y="330.17"/><use href="#trs" x="520.43" y="332.35"/><use href="#trs" x="520.66" y="334.54"/><use href="#trs" x="520.89" y="336.73"/><use href="#trs" x="521.12" y="338.92"/><use href="#trs" x="521.34" y="341.11"/><use href="#trs" x="521.57" y="343.30"/><use href="#trs" x="521.79" y="345.48"/><use href="#trs" x="522.00" y="347.67"/><use href="#trs" x="522.21" y="349.86"/><use href="#trs" x="522.42" y="352.05"/><use href="#trs" x="522.63" y="354.24"/><use href="#trs" x="522.84" y="356.43"/><use href="#trs" x="523.04" y="358.62"/><use href="#trs" x="523.24" y="360.82"/><use href="#trs" x="523.44" y="363.01"/><use href="#trs" x="523.63" y="365.20"/><use href="#trs" x="523.83" y="367.39"/><use href="#trs" x="524.02" y="369.58"/><use href="#trs" x="524.21" y="371.77"/><use href="#trs" x="524.39" y="373.97"/><use href="#trs" x="524.58" y="376.16"/><use href="#trs" x="524.76" y="378.35"/></g>
</g>
<g font-family="Liberation Serif" font-weight="bold" font-size="18" fill="#000" stroke="#fff" stroke-width="0.35"><text x="80.29" y="400.3" text-anchor="middle">1000</text><text x="135.85" y="400.3" text-anchor="middle">2000</text><text x="191.42" y="400.3" text-anchor="middle">3000</text><text x="246.99" y="400.3" text-anchor="middle">4000</text><text x="302.56" y="400.3" text-anchor="middle">5000</text><text x="358.12" y="400.3" text-anchor="middle">6000</text><text x="413.69" y="400.3" text-anchor="middle">7000</text><text x="469.26" y="400.3" text-anchor="middle">8000</text><text x="524.82" y="400.3" text-anchor="middle">9000</text><text x="60.6" y="369.41" text-anchor="end">500</text><text x="60.6" y="295.08" text-anchor="end">1000</text><text x="60.6" y="220.76" text-anchor="end">1500</text><text x="60.6" y="146.44" text-anchor="end">2000</text><text x="60.6" y="72.11" text-anchor="end">2500</text></g>
<text x="314.8" y="421.5" text-anchor="middle" font-family="Liberation Serif" font-weight="bold" font-size="19.5" stroke="#fff" stroke-width="0.35">Real</text>
<text transform="translate(19.9,195.4) rotate(-90)" text-anchor="middle" font-family="Liberation Serif" font-weight="bold" font-size="20" stroke="#fff" stroke-width="0.35">-Imag</text>
<rect x="250.9" y="112.3" width="128.4" height="75.2" fill="#fff" stroke="#111" stroke-width="1.6"/>
<rect x="261.3" y="120.6" width="2.8" height="2.8" fill="#1414ee"/><line x1="251" y1="140.8" x2="274" y2="140.8" stroke="#1ee61e" stroke-width="1.6" stroke-dasharray="6.3,1.8"/><path d="M258.8,142.7 L267.2,142.7 L263,137.3 Z" fill="#1ee61e"/><line x1="251" y1="159.4" x2="272.6" y2="159.4" stroke="#ff14c8" stroke-width="1.6"/><circle cx="262.5" cy="159.4" r="1.8" fill="#ff14c8"/><line x1="251" y1="178" x2="274" y2="178" stroke="#005800" stroke-width="1.6" stroke-dasharray="6.3,1.8"/><path d="M260.5,178.6 L264.5,178.6 L262.5,175.8 Z" fill="#005800"/>
<g font-family="Liberation Serif" font-weight="bold" font-size="16" fill="#000" transform="translate(275,0) scale(1,1.03) translate(-275,0)"><text x="275" y="123.59">Exp.</text><text x="275" y="141.84">1st order LPF</text><text x="275" y="160.10">2nd order LPF</text><text x="275" y="178.35">2nd order BPF</text></g>
</svg>
</body></html>
